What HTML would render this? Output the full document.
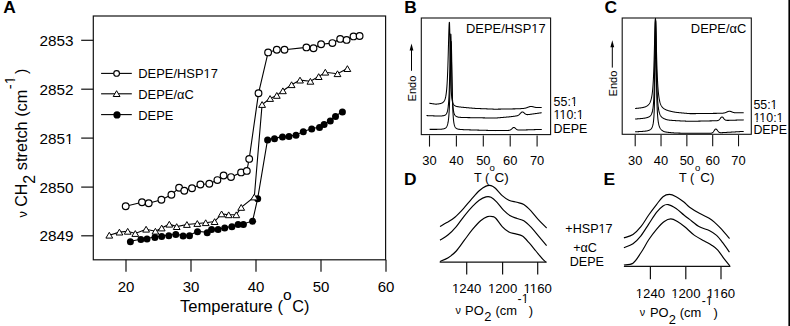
<!DOCTYPE html>
<html><head><meta charset="utf-8"><title>Figure</title>
<style>html,body{margin:0;padding:0;background:#fff;overflow:hidden;}svg{display:block;font-family:"Liberation Sans",sans-serif;}</style>
</head><body>
<svg width="790" height="326" viewBox="0 0 790 326" font-family='&quot;Liberation Sans&quot;, sans-serif' fill="#000">
<rect width="790" height="326" fill="#fff"/>
<rect x="93.3" y="16" width="292.3" height="243.8" fill="none" stroke="#111" stroke-width="1.2"/>
<line x1="81.2" y1="40.3" x2="93.3" y2="40.3" stroke="#111" stroke-width="1.2"/>
<text x="73.6" y="45.7" font-size="15.3" text-anchor="end" font-weight="normal" >2853</text>
<line x1="81.2" y1="89.2" x2="93.3" y2="89.2" stroke="#111" stroke-width="1.2"/>
<text x="73.6" y="94.6" font-size="15.3" text-anchor="end" font-weight="normal" >2852</text>
<line x1="81.2" y1="138.1" x2="93.3" y2="138.1" stroke="#111" stroke-width="1.2"/>
<text id="t1" x="73.6" y="143.5" font-size="15.3" text-anchor="end" font-weight="normal" >2851</text>
<rect x="65.25" y="141.66" width="3.66" height="2.74" fill="#fff"/><rect x="70.3" y="141.66" width="3.66" height="2.74" fill="#fff"/>
<line x1="81.2" y1="187.1" x2="93.3" y2="187.1" stroke="#111" stroke-width="1.2"/>
<text x="73.6" y="192.5" font-size="15.3" text-anchor="end" font-weight="normal" >2850</text>
<line x1="81.2" y1="235.8" x2="93.3" y2="235.8" stroke="#111" stroke-width="1.2"/>
<text x="73.6" y="241.2" font-size="15.3" text-anchor="end" font-weight="normal" >2849</text>
<line x1="126" y1="259.8" x2="126" y2="271.8" stroke="#111" stroke-width="1.2"/>
<text x="126" y="292.4" font-size="15" text-anchor="middle" font-weight="normal" >20</text>
<line x1="191" y1="259.8" x2="191" y2="271.8" stroke="#111" stroke-width="1.2"/>
<text x="191" y="292.4" font-size="15" text-anchor="middle" font-weight="normal" >30</text>
<line x1="256" y1="259.8" x2="256" y2="271.8" stroke="#111" stroke-width="1.2"/>
<text x="256" y="292.4" font-size="15" text-anchor="middle" font-weight="normal" >40</text>
<line x1="321" y1="259.8" x2="321" y2="271.8" stroke="#111" stroke-width="1.2"/>
<text x="321" y="292.4" font-size="15" text-anchor="middle" font-weight="normal" >50</text>
<line x1="386" y1="259.8" x2="386" y2="271.8" stroke="#111" stroke-width="1.2"/>
<text x="386" y="292.4" font-size="15" text-anchor="middle" font-weight="normal" >60</text>
<text x="180" y="311.6" font-size="16.55" text-anchor="start" font-weight="normal" >Temperature (</text>
<text x="283" y="299.5" font-size="15.5" text-anchor="start" font-weight="normal" >o</text>
<text x="292.2" y="311.6" font-size="16.3" text-anchor="start" font-weight="normal" >C)</text>
<g transform="translate(27.1,217.6) rotate(-90)">
<text id="ytitle" x="0" y="0" font-size="16"><tspan font-size="12.8">&#957;</tspan> CH<tspan dy="7.4">2</tspan><tspan dy="-7.4" font-size="16.3"> stretch (cm</tspan><tspan font-size="14.6" dy="-12" dx="0.5">-1</tspan><tspan dy="12" dx="2.2">)</tspan></text>
<rect x="133.39" y="-13.79" width="3.54" height="2.69" fill="#fff"/><rect x="138.26" y="-13.79" width="3.55" height="2.69" fill="#fff"/>
</g>
<path d="M125.7,206.2 L142,202.2 L148.7,203.3 L161.4,199.7 L171.4,194.7 L179.1,187.8 L184.3,190.7 L192,188.2 L200.4,184.5 L209.3,183.8 L217.4,180.1 L223.6,175.5 L231,177.1 L241.1,172.4 L246.8,170.9 L249.2,158.9 L258.5,93.3 L268.1,52.4 L276.8,49.8 L284.5,49.8 L306.4,47.4 L313.5,48.3 L321.1,44.3 L332.4,43.1 L340.2,38.9 L346.6,39.9 L353.5,36.4 L359.6,36" fill="none" stroke="#000" stroke-width="1.1"/>
<path d="M109.3,235.2 L119.4,232.1 L127.7,231.3 L135.3,233.5 L146.1,229.2 L155.4,231.2 L161.7,228 L169.3,224.2 L176.7,226.6 L186.9,224.5 L197.3,223.5 L205.7,222.7 L214.6,221.6 L221.6,213.9 L228.7,214.8 L236.3,214.8 L241.2,207.4 L254.3,197 L262.1,104.5 L270.1,98.5 L276.8,95.4 L282.9,90.8 L291.6,84.7 L300,80.1 L310.4,81.3 L318.7,76.6 L325.3,72.2 L337.5,73.7 L347.4,68.6" fill="none" stroke="#000" stroke-width="1.1"/>
<path d="M130.4,241.3 L140.9,239.2 L147,238.5 L154.9,237 L161.7,236.1 L168.8,235.3 L175.8,234.2 L183.1,235.6 L189.5,235.3 L197.5,231.4 L207.2,232.3 L211.6,229.2 L218.1,229.2 L224.7,227.7 L231.9,226.4 L238.1,224 L243.4,224 L252.6,220.9 L257.7,198.4 L267.6,139.5 L274.5,138.4 L282.5,136.6 L289,136.2 L296,134.9 L303.3,131.4 L311.7,128.7 L319.5,127.1 L324.1,124.2 L330.3,120.7 L335.5,116.1 L342.4,111.5" fill="none" stroke="#000" stroke-width="1.1"/>
<circle cx="130.4" cy="241.7" r="3.5" fill="#000"/>
<circle cx="140.9" cy="239.6" r="3.5" fill="#000"/>
<circle cx="147" cy="238.9" r="3.5" fill="#000"/>
<circle cx="154.9" cy="237.4" r="3.5" fill="#000"/>
<circle cx="161.7" cy="236.5" r="3.5" fill="#000"/>
<circle cx="168.8" cy="235.7" r="3.5" fill="#000"/>
<circle cx="175.8" cy="234.6" r="3.5" fill="#000"/>
<circle cx="183.1" cy="236" r="3.5" fill="#000"/>
<circle cx="189.5" cy="235.7" r="3.5" fill="#000"/>
<circle cx="197.5" cy="231.8" r="3.5" fill="#000"/>
<circle cx="207.2" cy="232.7" r="3.5" fill="#000"/>
<circle cx="211.6" cy="229.6" r="3.5" fill="#000"/>
<circle cx="218.1" cy="229.6" r="3.5" fill="#000"/>
<circle cx="224.7" cy="228.1" r="3.5" fill="#000"/>
<circle cx="231.9" cy="226.8" r="3.5" fill="#000"/>
<circle cx="238.1" cy="224.4" r="3.5" fill="#000"/>
<circle cx="243.4" cy="224.4" r="3.5" fill="#000"/>
<circle cx="252.6" cy="221.3" r="3.5" fill="#000"/>
<circle cx="257.7" cy="198.8" r="3.5" fill="#000"/>
<circle cx="267.6" cy="139.9" r="3.5" fill="#000"/>
<circle cx="274.5" cy="138.8" r="3.5" fill="#000"/>
<circle cx="282.5" cy="137" r="3.5" fill="#000"/>
<circle cx="289" cy="136.6" r="3.5" fill="#000"/>
<circle cx="296" cy="135.3" r="3.5" fill="#000"/>
<circle cx="303.3" cy="131.8" r="3.5" fill="#000"/>
<circle cx="311.7" cy="129.1" r="3.5" fill="#000"/>
<circle cx="319.5" cy="127.5" r="3.5" fill="#000"/>
<circle cx="324.1" cy="124.6" r="3.5" fill="#000"/>
<circle cx="330.3" cy="121.1" r="3.5" fill="#000"/>
<circle cx="335.5" cy="116.5" r="3.5" fill="#000"/>
<circle cx="342.4" cy="111.9" r="3.5" fill="#000"/>
<path d="M109.3,232.3 L112.7,238.1 L105.9,238.1 Z" fill="#fff" stroke="#000" stroke-width="1.0"/>
<path d="M119.4,229.2 L122.8,235 L116,235 Z" fill="#fff" stroke="#000" stroke-width="1.0"/>
<path d="M127.7,228.4 L131.1,234.2 L124.3,234.2 Z" fill="#fff" stroke="#000" stroke-width="1.0"/>
<path d="M135.3,230.6 L138.7,236.4 L131.9,236.4 Z" fill="#fff" stroke="#000" stroke-width="1.0"/>
<path d="M146.1,226.3 L149.5,232.1 L142.7,232.1 Z" fill="#fff" stroke="#000" stroke-width="1.0"/>
<path d="M155.4,228.3 L158.8,234.1 L152,234.1 Z" fill="#fff" stroke="#000" stroke-width="1.0"/>
<path d="M161.7,225.1 L165.1,230.9 L158.3,230.9 Z" fill="#fff" stroke="#000" stroke-width="1.0"/>
<path d="M169.3,221.3 L172.7,227.1 L165.9,227.1 Z" fill="#fff" stroke="#000" stroke-width="1.0"/>
<path d="M176.7,223.7 L180.1,229.5 L173.3,229.5 Z" fill="#fff" stroke="#000" stroke-width="1.0"/>
<path d="M186.9,221.6 L190.3,227.4 L183.5,227.4 Z" fill="#fff" stroke="#000" stroke-width="1.0"/>
<path d="M197.3,220.6 L200.7,226.4 L193.9,226.4 Z" fill="#fff" stroke="#000" stroke-width="1.0"/>
<path d="M205.7,219.8 L209.1,225.6 L202.3,225.6 Z" fill="#fff" stroke="#000" stroke-width="1.0"/>
<path d="M214.6,218.7 L218,224.5 L211.2,224.5 Z" fill="#fff" stroke="#000" stroke-width="1.0"/>
<path d="M221.6,211 L225,216.8 L218.2,216.8 Z" fill="#fff" stroke="#000" stroke-width="1.0"/>
<path d="M228.7,211.9 L232.1,217.7 L225.3,217.7 Z" fill="#fff" stroke="#000" stroke-width="1.0"/>
<path d="M236.3,211.9 L239.7,217.7 L232.9,217.7 Z" fill="#fff" stroke="#000" stroke-width="1.0"/>
<path d="M241.2,204.5 L244.6,210.3 L237.8,210.3 Z" fill="#fff" stroke="#000" stroke-width="1.0"/>
<path d="M254.3,194.1 L257.7,199.9 L250.9,199.9 Z" fill="#fff" stroke="#000" stroke-width="1.0"/>
<path d="M262.1,101.6 L265.5,107.4 L258.7,107.4 Z" fill="#fff" stroke="#000" stroke-width="1.0"/>
<path d="M270.1,95.6 L273.5,101.4 L266.7,101.4 Z" fill="#fff" stroke="#000" stroke-width="1.0"/>
<path d="M276.8,92.5 L280.2,98.3 L273.4,98.3 Z" fill="#fff" stroke="#000" stroke-width="1.0"/>
<path d="M282.9,87.9 L286.3,93.7 L279.5,93.7 Z" fill="#fff" stroke="#000" stroke-width="1.0"/>
<path d="M291.6,81.8 L295,87.6 L288.2,87.6 Z" fill="#fff" stroke="#000" stroke-width="1.0"/>
<path d="M300,77.2 L303.4,83 L296.6,83 Z" fill="#fff" stroke="#000" stroke-width="1.0"/>
<path d="M310.4,78.4 L313.8,84.2 L307,84.2 Z" fill="#fff" stroke="#000" stroke-width="1.0"/>
<path d="M318.7,73.7 L322.1,79.5 L315.3,79.5 Z" fill="#fff" stroke="#000" stroke-width="1.0"/>
<path d="M325.3,69.3 L328.7,75.1 L321.9,75.1 Z" fill="#fff" stroke="#000" stroke-width="1.0"/>
<path d="M337.5,70.8 L340.9,76.6 L334.1,76.6 Z" fill="#fff" stroke="#000" stroke-width="1.0"/>
<path d="M347.4,65.7 L350.8,71.5 L344,71.5 Z" fill="#fff" stroke="#000" stroke-width="1.0"/>
<circle cx="125.7" cy="206.2" r="3.35" fill="#fff" stroke="#000" stroke-width="1.2"/>
<circle cx="142" cy="202.2" r="3.35" fill="#fff" stroke="#000" stroke-width="1.2"/>
<circle cx="148.7" cy="203.3" r="3.35" fill="#fff" stroke="#000" stroke-width="1.2"/>
<circle cx="161.4" cy="199.7" r="3.35" fill="#fff" stroke="#000" stroke-width="1.2"/>
<circle cx="171.4" cy="194.7" r="3.35" fill="#fff" stroke="#000" stroke-width="1.2"/>
<circle cx="179.1" cy="187.8" r="3.35" fill="#fff" stroke="#000" stroke-width="1.2"/>
<circle cx="184.3" cy="190.7" r="3.35" fill="#fff" stroke="#000" stroke-width="1.2"/>
<circle cx="192" cy="188.2" r="3.35" fill="#fff" stroke="#000" stroke-width="1.2"/>
<circle cx="200.4" cy="184.5" r="3.35" fill="#fff" stroke="#000" stroke-width="1.2"/>
<circle cx="209.3" cy="183.8" r="3.35" fill="#fff" stroke="#000" stroke-width="1.2"/>
<circle cx="217.4" cy="180.1" r="3.35" fill="#fff" stroke="#000" stroke-width="1.2"/>
<circle cx="223.6" cy="175.5" r="3.35" fill="#fff" stroke="#000" stroke-width="1.2"/>
<circle cx="231" cy="177.1" r="3.35" fill="#fff" stroke="#000" stroke-width="1.2"/>
<circle cx="241.1" cy="172.4" r="3.35" fill="#fff" stroke="#000" stroke-width="1.2"/>
<circle cx="246.8" cy="170.9" r="3.35" fill="#fff" stroke="#000" stroke-width="1.2"/>
<circle cx="249.2" cy="158.9" r="3.35" fill="#fff" stroke="#000" stroke-width="1.2"/>
<circle cx="258.5" cy="93.3" r="3.35" fill="#fff" stroke="#000" stroke-width="1.2"/>
<circle cx="268.1" cy="52.4" r="3.35" fill="#fff" stroke="#000" stroke-width="1.2"/>
<circle cx="276.8" cy="49.8" r="3.35" fill="#fff" stroke="#000" stroke-width="1.2"/>
<circle cx="284.5" cy="49.8" r="3.35" fill="#fff" stroke="#000" stroke-width="1.2"/>
<circle cx="306.4" cy="47.4" r="3.35" fill="#fff" stroke="#000" stroke-width="1.2"/>
<circle cx="313.5" cy="48.3" r="3.35" fill="#fff" stroke="#000" stroke-width="1.2"/>
<circle cx="321.1" cy="44.3" r="3.35" fill="#fff" stroke="#000" stroke-width="1.2"/>
<circle cx="332.4" cy="43.1" r="3.35" fill="#fff" stroke="#000" stroke-width="1.2"/>
<circle cx="340.2" cy="38.9" r="3.35" fill="#fff" stroke="#000" stroke-width="1.2"/>
<circle cx="346.6" cy="39.9" r="3.35" fill="#fff" stroke="#000" stroke-width="1.2"/>
<circle cx="353.5" cy="36.4" r="3.35" fill="#fff" stroke="#000" stroke-width="1.2"/>
<circle cx="359.6" cy="36" r="3.35" fill="#fff" stroke="#000" stroke-width="1.2"/>
<line x1="101.1" y1="73.4" x2="131.8" y2="73.4" stroke="#000" stroke-width="1.1"/>
<circle cx="116.6" cy="73.4" r="2.85" fill="#fff" stroke="#000" stroke-width="1.15"/>
<text id="t2" x="138.3" y="78.3" font-size="12.9" text-anchor="start" font-weight="normal" >DEPE/HSP17</text>
<rect x="203.47" y="76.64" width="3.24" height="2.56" fill="#fff"/><rect x="207.89" y="76.64" width="3.26" height="2.56" fill="#fff"/>
<line x1="101.1" y1="93.8" x2="131.8" y2="93.8" stroke="#000" stroke-width="1.1"/>
<path d="M116.6,90.7 L120,96.5 L113.2,96.5 Z" fill="#fff" stroke="#000" stroke-width="1.0"/>
<text x="138.3" y="98.7" font-size="12.9" text-anchor="start" font-weight="normal" >DEPE/&#945;C</text>
<line x1="101.1" y1="114.6" x2="131.8" y2="114.6" stroke="#000" stroke-width="1.1"/>
<circle cx="117" cy="114.9" r="3.6" fill="#000"/>
<text x="138.3" y="119.5" font-size="12.9" text-anchor="start" font-weight="normal" >DEPE</text>
<text x="3.2" y="13.4" font-size="17.4" text-anchor="start" font-weight="bold" >A</text>
<text x="404.2" y="13.2" font-size="17.4" text-anchor="start" font-weight="bold" >B</text>
<text x="604.4" y="13.3" font-size="17.4" text-anchor="start" font-weight="bold" >C</text>
<text x="404" y="185" font-size="17.4" text-anchor="start" font-weight="bold" >D</text>
<text x="603.6" y="185" font-size="17.4" text-anchor="start" font-weight="bold" >E</text>
<rect x="421.3" y="18" width="129.3" height="116.6" fill="none" stroke="#111" stroke-width="1.1"/>
<line x1="429.5" y1="135.4" x2="429.5" y2="146.6" stroke="#111" stroke-width="1.1"/>
<text x="429.5" y="164.6" font-size="12.9" text-anchor="middle" font-weight="normal" >30</text>
<line x1="456.4" y1="135.4" x2="456.4" y2="146.6" stroke="#111" stroke-width="1.1"/>
<text x="456.4" y="164.6" font-size="12.9" text-anchor="middle" font-weight="normal" >40</text>
<line x1="483.3" y1="135.4" x2="483.3" y2="146.6" stroke="#111" stroke-width="1.1"/>
<text x="483.3" y="164.6" font-size="12.9" text-anchor="middle" font-weight="normal" >50</text>
<line x1="510.2" y1="135.4" x2="510.2" y2="146.6" stroke="#111" stroke-width="1.1"/>
<text x="510.2" y="164.6" font-size="12.9" text-anchor="middle" font-weight="normal" >60</text>
<line x1="537.1" y1="135.4" x2="537.1" y2="146.6" stroke="#111" stroke-width="1.1"/>
<text x="537.1" y="164.6" font-size="12.9" text-anchor="middle" font-weight="normal" >70</text>
<path d="M429.3,103.24 L429.5,103.27 L429.7,103.3 L429.9,103.33 L430.1,103.36 L430.3,103.39 L430.5,103.42 L430.7,103.45 L430.9,103.48 L431.1,103.51 L431.3,103.54 L431.5,103.57 L431.7,103.6 L431.9,103.63 L432.1,103.66 L432.3,103.69 L432.5,103.72 L432.7,103.75 L432.9,103.78 L433.1,103.81 L433.3,103.83 L433.5,103.86 L433.7,103.89 L433.9,103.92 L434.1,103.95 L434.3,103.97 L434.5,104 L434.7,104.03 L434.9,104.05 L435.1,104.08 L435.3,104.1 L435.5,104.13 L435.7,104.15 L435.9,104.18 L436.1,104.18 L436.3,104.16 L436.5,104.14 L436.7,104.12 L436.9,104.1 L437.1,104.08 L437.3,104.06 L437.5,104.04 L437.7,104.02 L437.9,103.99 L438.1,103.97 L438.3,103.94 L438.5,103.91 L438.7,103.88 L438.9,103.85 L439.1,103.82 L439.3,103.78 L439.5,103.75 L439.7,103.71 L439.9,103.67 L440.1,103.62 L440.3,103.57 L440.5,103.52 L440.7,103.47 L440.9,103.41 L441.1,103.35 L441.3,103.28 L441.5,103.2 L441.7,103.12 L441.9,103.04 L442.1,102.94 L442.3,102.83 L442.5,102.72 L442.7,102.59 L442.9,102.44 L443.1,102.28 L443.3,102.1 L443.5,101.9 L443.7,101.68 L443.9,101.43 L444.1,101.14 L444.3,100.81 L444.5,100.44 L444.7,100.02 L444.9,99.53 L445.1,98.96 L445.3,98.31 L445.5,97.55 L445.7,96.66 L445.9,95.61 L446.1,94.37 L446.3,92.91 L446.5,91.17 L446.7,89.09 L446.9,86.62 L447.1,83.68 L447.3,80.2 L447.5,76.05 L447.7,71.16 L447.9,65.46 L448.1,58.97 L448.3,51.8 L448.5,44.23 L448.7,36.75 L448.9,30.05 L449.1,24.96 L449.3,22.2 L449.5,22.67 L449.7,28.62 L449.9,38.57 L450.1,49.95 L450.3,60.79 L450.5,70.12 L450.7,77.68 L450.9,83.64 L451.1,88.27 L451.3,91.85 L451.5,94.63 L451.7,96.82 L451.9,98.55 L452.1,99.89 L452.3,100.94 L452.5,101.78 L452.7,102.47 L452.9,103.04 L453.1,103.51 L453.3,103.91 L453.5,104.25 L453.7,104.54 L453.9,104.8 L454.1,105.02 L454.3,105.21 L454.5,105.39 L454.7,105.54 L454.9,105.68 L455.1,105.81 L455.3,105.92 L455.5,106.03 L455.7,106.13 L455.9,106.22 L456.1,106.3 L456.3,106.36 L456.5,106.41 L456.7,106.46 L456.9,106.51 L457.1,106.55 L457.3,106.59 L457.5,106.63 L457.7,106.67 L457.9,106.7 L458.1,106.74 L458.3,106.77 L458.5,106.8 L458.7,106.83 L458.9,106.86 L459.1,106.89 L459.3,106.91 L459.5,106.94 L459.7,106.96 L459.9,106.99 L460.1,107.01 L460.3,107.04 L460.5,107.06 L460.7,107.08 L460.9,107.1 L461.1,107.13 L461.3,107.15 L461.5,107.17 L461.7,107.19 L461.9,107.21 L462.1,107.23 L462.3,107.25 L462.5,107.27 L462.7,107.29 L462.9,107.31 L463.1,107.33 L463.3,107.35 L463.5,107.37 L463.7,107.39 L463.9,107.41 L464.1,107.43 L464.3,107.45 L464.5,107.47 L464.7,107.48 L464.9,107.5 L465.1,107.52 L465.3,107.54 L465.5,107.56 L465.7,107.58 L465.9,107.59 L466.1,107.61 L466.3,107.63 L466.5,107.65 L466.7,107.67 L466.9,107.68 L467.1,107.7 L467.3,107.72 L467.5,107.74 L467.7,107.76 L467.9,107.77 L468.1,107.79 L468.3,107.81 L468.5,107.83 L468.7,107.84 L468.9,107.86 L469.1,107.88 L469.3,107.9 L469.5,107.91 L469.7,107.93 L469.9,107.95 L470.1,107.97 L470.3,107.98 L470.5,108 L470.7,108.02 L470.9,108.04 L471.1,108.05 L471.3,108.07 L471.5,108.09 L471.7,108.11 L471.9,108.12 L472.1,108.14 L472.3,108.16 L472.5,108.18 L472.7,108.19 L472.9,108.21 L473.1,108.23 L473.3,108.24 L473.5,108.26 L473.7,108.28 L473.9,108.3 L474.1,108.31 L474.3,108.33 L474.5,108.35 L474.7,108.36 L474.9,108.38 L475.1,108.39 L475.3,108.4 L475.5,108.41 L475.7,108.42 L475.9,108.43 L476.1,108.44 L476.3,108.44 L476.5,108.45 L476.7,108.46 L476.9,108.47 L477.1,108.48 L477.3,108.48 L477.5,108.49 L477.7,108.5 L477.9,108.51 L478.1,108.52 L478.3,108.53 L478.5,108.53 L478.7,108.54 L478.9,108.55 L479.1,108.56 L479.3,108.57 L479.5,108.57 L479.7,108.58 L479.9,108.59 L480.1,108.6 L480.3,108.61 L480.5,108.61 L480.7,108.62 L480.9,108.63 L481.1,108.64 L481.3,108.65 L481.5,108.66 L481.7,108.66 L481.9,108.67 L482.1,108.68 L482.3,108.69 L482.5,108.7 L482.7,108.7 L482.9,108.71 L483.1,108.72 L483.3,108.73 L483.5,108.74 L483.7,108.74 L483.9,108.75 L484.1,108.76 L484.3,108.77 L484.5,108.78 L484.7,108.78 L484.9,108.79 L485.1,108.8 L485.3,108.81 L485.5,108.82 L485.7,108.82 L485.9,108.83 L486.1,108.84 L486.3,108.85 L486.5,108.86 L486.7,108.86 L486.9,108.87 L487.1,108.88 L487.3,108.89 L487.5,108.9 L487.7,108.91 L487.9,108.91 L488.1,108.92 L488.3,108.93 L488.5,108.94 L488.7,108.95 L488.9,108.95 L489.1,108.96 L489.3,108.97 L489.5,108.98 L489.7,108.99 L489.9,108.99 L490.1,109 L490.3,109.01 L490.5,109.02 L490.7,109.03 L490.9,109.03 L491.1,109.04 L491.3,109.05 L491.5,109.06 L491.7,109.07 L491.9,109.07 L492.1,109.08 L492.3,109.09 L492.5,109.1 L492.7,109.11 L492.9,109.11 L493.1,109.12 L493.3,109.13 L493.5,109.14 L493.7,109.15 L493.9,109.15 L494.1,109.16 L494.3,109.17 L494.5,109.18 L494.7,109.19 L494.9,109.19 L495.1,109.2 L495.3,109.19 L495.5,109.19 L495.7,109.19 L495.9,109.18 L496.1,109.18 L496.3,109.18 L496.5,109.17 L496.7,109.17 L496.9,109.17 L497.1,109.16 L497.3,109.16 L497.5,109.16 L497.7,109.15 L497.9,109.15 L498.1,109.14 L498.3,109.14 L498.5,109.14 L498.7,109.13 L498.9,109.13 L499.1,109.13 L499.3,109.12 L499.5,109.12 L499.7,109.12 L499.9,109.11 L500.1,109.11 L500.3,109.11 L500.5,109.1 L500.7,109.1 L500.9,109.1 L501.1,109.09 L501.3,109.09 L501.5,109.09 L501.7,109.08 L501.9,109.08 L502.1,109.08 L502.3,109.07 L502.5,109.07 L502.7,109.07 L502.9,109.06 L503.1,109.06 L503.3,109.05 L503.5,109.05 L503.7,109.05 L503.9,109.04 L504.1,109.04 L504.3,109.04 L504.5,109.03 L504.7,109.03 L504.9,109.03 L505.1,109.02 L505.3,109.02 L505.5,109.02 L505.7,109.01 L505.9,109.01 L506.1,109.01 L506.3,109 L506.5,109 L506.7,109 L506.9,108.99 L507.1,108.99 L507.3,108.99 L507.5,108.98 L507.7,108.98 L507.9,108.97 L508.1,108.97 L508.3,108.97 L508.5,108.96 L508.7,108.96 L508.9,108.96 L509.1,108.95 L509.3,108.95 L509.5,108.95 L509.7,108.94 L509.9,108.94 L510.1,108.94 L510.3,108.93 L510.5,108.93 L510.7,108.93 L510.9,108.92 L511.1,108.92 L511.3,108.92 L511.5,108.91 L511.7,108.91 L511.9,108.91 L512.1,108.9 L512.3,108.9 L512.5,108.9 L512.7,108.89 L512.9,108.89 L513.1,108.88 L513.3,108.88 L513.5,108.88 L513.7,108.87 L513.9,108.87 L514.1,108.87 L514.3,108.86 L514.5,108.86 L514.7,108.86 L514.9,108.85 L515.1,108.85 L515.3,108.85 L515.5,108.84 L515.7,108.84 L515.9,108.84 L516.1,108.83 L516.3,108.83 L516.5,108.83 L516.7,108.82 L516.9,108.82 L517.1,108.82 L517.3,108.81 L517.5,108.81 L517.7,108.8 L517.9,108.8 L518.1,108.79 L518.3,108.78 L518.5,108.77 L518.7,108.76 L518.9,108.75 L519.1,108.73 L519.3,108.72 L519.5,108.71 L519.7,108.7 L519.9,108.69 L520.1,108.67 L520.3,108.66 L520.5,108.65 L520.7,108.64 L520.9,108.63 L521.1,108.61 L521.3,108.6 L521.5,108.59 L521.7,108.57 L521.9,108.56 L522.1,108.55 L522.3,108.53 L522.5,108.52 L522.7,108.5 L522.9,108.48 L523.1,108.46 L523.3,108.44 L523.5,108.42 L523.7,108.4 L523.9,108.38 L524.1,108.35 L524.3,108.32 L524.5,108.29 L524.7,108.26 L524.9,108.22 L525.1,108.18 L525.3,108.14 L525.5,108.09 L525.7,108.04 L525.9,107.99 L526.1,107.93 L526.3,107.87 L526.5,107.81 L526.7,107.74 L526.9,107.67 L527.1,107.6 L527.3,107.52 L527.5,107.44 L527.7,107.36 L527.9,107.28 L528.1,107.2 L528.3,107.12 L528.5,107.04 L528.7,106.96 L528.9,106.89 L529.1,106.82 L529.3,106.75 L529.5,106.69 L529.7,106.63 L529.9,106.58 L530.1,106.54 L530.3,106.5 L530.5,106.47 L530.7,106.45 L530.9,106.44 L531.1,106.44 L531.3,106.44 L531.5,106.45 L531.7,106.47 L531.9,106.5 L532.1,106.53 L532.3,106.57 L532.5,106.62 L532.7,106.66 L532.9,106.72 L533.1,106.77 L533.3,106.83 L533.5,106.88 L533.7,106.94 L533.9,107 L534.1,107.05 L534.3,107.11 L534.5,107.16 L534.7,107.21 L534.9,107.26 L535.1,107.3 L535.3,107.34 L535.5,107.38 L535.7,107.41 L535.9,107.44 L536.1,107.47 L536.3,107.49 L536.5,107.51 L536.7,107.53 L536.9,107.54 L537.1,107.55 L537.3,107.56 L537.5,107.56 L537.7,107.56 L537.9,107.56 L538.1,107.56 L538.3,107.56 L538.5,107.56 L538.7,107.55 L538.9,107.55 L539.1,107.54 L539.3,107.53 L539.5,107.52 L539.7,107.51 L539.9,107.5 L540.1,107.49 L540.3,107.48 L540.5,107.47 L540.7,107.46 L540.9,107.45 L541.1,107.44 L541.3,107.43 L541.5,107.42 L541.7,107.4" fill="none" stroke="#000" stroke-width="1.05" stroke-linejoin="round"/>
<path d="M426.5,115.58 L426.7,115.59 L426.9,115.6 L427.1,115.61 L427.3,115.62 L427.5,115.62 L427.7,115.63 L427.9,115.64 L428.1,115.65 L428.3,115.66 L428.5,115.67 L428.7,115.67 L428.9,115.68 L429.1,115.69 L429.3,115.7 L429.5,115.71 L429.7,115.72 L429.9,115.72 L430.1,115.73 L430.3,115.74 L430.5,115.75 L430.7,115.76 L430.9,115.76 L431.1,115.77 L431.3,115.78 L431.5,115.79 L431.7,115.8 L431.9,115.8 L432.1,115.81 L432.3,115.82 L432.5,115.83 L432.7,115.83 L432.9,115.84 L433.1,115.85 L433.3,115.86 L433.5,115.86 L433.7,115.87 L433.9,115.88 L434.1,115.88 L434.3,115.89 L434.5,115.9 L434.7,115.9 L434.9,115.91 L435.1,115.92 L435.3,115.92 L435.5,115.93 L435.7,115.94 L435.9,115.94 L436.1,115.95 L436.3,115.95 L436.5,115.96 L436.7,115.96 L436.9,115.97 L437.1,115.97 L437.3,115.98 L437.5,115.98 L437.7,115.99 L437.9,115.99 L438.1,115.99 L438.3,116 L438.5,116 L438.7,116 L438.9,116 L439.1,116.01 L439.3,116.01 L439.5,116.01 L439.7,116.01 L439.9,116.01 L440.1,116 L440.3,116 L440.5,115.99 L440.7,115.98 L440.9,115.97 L441.1,115.96 L441.3,115.95 L441.5,115.93 L441.7,115.92 L441.9,115.9 L442.1,115.88 L442.3,115.86 L442.5,115.84 L442.7,115.81 L442.9,115.78 L443.1,115.75 L443.3,115.71 L443.5,115.67 L443.7,115.63 L443.9,115.58 L444.1,115.52 L444.3,115.45 L444.5,115.38 L444.7,115.29 L444.9,115.19 L445.1,115.08 L445.3,114.96 L445.5,114.81 L445.7,114.64 L445.9,114.45 L446.1,114.23 L446.3,113.96 L446.5,113.65 L446.7,113.29 L446.9,112.86 L447.1,112.35 L447.3,111.73 L447.5,110.98 L447.7,110.08 L447.9,108.97 L448.1,107.61 L448.3,105.93 L448.5,103.83 L448.7,101.2 L448.9,97.9 L449.1,93.75 L449.3,88.58 L449.5,82.19 L449.7,74.49 L449.9,65.56 L450.1,55.85 L450.3,46.35 L450.5,38.54 L450.7,34.08 L450.9,34.29 L451.1,40.2 L451.3,50.12 L451.5,61.45 L451.7,72.26 L451.9,81.53 L452.1,89.05 L452.3,94.94 L452.5,99.5 L452.7,103 L452.9,105.71 L453.1,107.81 L453.3,109.46 L453.5,110.76 L453.7,111.8 L453.9,112.64 L454.1,113.32 L454.3,113.88 L454.5,114.34 L454.7,114.73 L454.9,115.05 L455.1,115.33 L455.3,115.57 L455.5,115.78 L455.7,115.96 L455.9,116.12 L456.1,116.26 L456.3,116.38 L456.5,116.5 L456.7,116.6 L456.9,116.69 L457.1,116.78 L457.3,116.85 L457.5,116.93 L457.7,116.99 L457.9,117.05 L458.1,117.1 L458.3,117.14 L458.5,117.17 L458.7,117.19 L458.9,117.22 L459.1,117.24 L459.3,117.26 L459.5,117.28 L459.7,117.3 L459.9,117.32 L460.1,117.33 L460.3,117.35 L460.5,117.36 L460.7,117.37 L460.9,117.39 L461.1,117.4 L461.3,117.41 L461.5,117.42 L461.7,117.43 L461.9,117.44 L462.1,117.45 L462.3,117.45 L462.5,117.46 L462.7,117.47 L462.9,117.48 L463.1,117.48 L463.3,117.49 L463.5,117.5 L463.7,117.5 L463.9,117.51 L464.1,117.52 L464.3,117.52 L464.5,117.53 L464.7,117.53 L464.9,117.54 L465.1,117.54 L465.3,117.55 L465.5,117.55 L465.7,117.56 L465.9,117.56 L466.1,117.57 L466.3,117.57 L466.5,117.57 L466.7,117.58 L466.9,117.58 L467.1,117.59 L467.3,117.59 L467.5,117.6 L467.7,117.6 L467.9,117.6 L468.1,117.61 L468.3,117.61 L468.5,117.61 L468.7,117.62 L468.9,117.62 L469.1,117.63 L469.3,117.63 L469.5,117.63 L469.7,117.64 L469.9,117.64 L470.1,117.64 L470.3,117.65 L470.5,117.65 L470.7,117.65 L470.9,117.66 L471.1,117.66 L471.3,117.66 L471.5,117.67 L471.7,117.67 L471.9,117.67 L472.1,117.68 L472.3,117.68 L472.5,117.68 L472.7,117.69 L472.9,117.69 L473.1,117.69 L473.3,117.69 L473.5,117.7 L473.7,117.7 L473.9,117.7 L474.1,117.71 L474.3,117.71 L474.5,117.71 L474.7,117.72 L474.9,117.72 L475.1,117.72 L475.3,117.72 L475.5,117.73 L475.7,117.73 L475.9,117.73 L476.1,117.74 L476.3,117.74 L476.5,117.74 L476.7,117.75 L476.9,117.75 L477.1,117.75 L477.3,117.75 L477.5,117.76 L477.7,117.76 L477.9,117.76 L478.1,117.77 L478.3,117.77 L478.5,117.77 L478.7,117.77 L478.9,117.78 L479.1,117.78 L479.3,117.78 L479.5,117.79 L479.7,117.79 L479.9,117.79 L480.1,117.8 L480.3,117.8 L480.5,117.8 L480.7,117.81 L480.9,117.81 L481.1,117.82 L481.3,117.82 L481.5,117.82 L481.7,117.83 L481.9,117.83 L482.1,117.84 L482.3,117.84 L482.5,117.84 L482.7,117.85 L482.9,117.85 L483.1,117.86 L483.3,117.86 L483.5,117.87 L483.7,117.87 L483.9,117.87 L484.1,117.88 L484.3,117.88 L484.5,117.89 L484.7,117.89 L484.9,117.89 L485.1,117.9 L485.3,117.9 L485.5,117.91 L485.7,117.91 L485.9,117.91 L486.1,117.92 L486.3,117.92 L486.5,117.93 L486.7,117.93 L486.9,117.93 L487.1,117.94 L487.3,117.94 L487.5,117.95 L487.7,117.95 L487.9,117.95 L488.1,117.96 L488.3,117.96 L488.5,117.97 L488.7,117.97 L488.9,117.98 L489.1,117.98 L489.3,117.98 L489.5,117.99 L489.7,117.99 L489.9,118 L490.1,118 L490.3,118 L490.5,118.01 L490.7,118.01 L490.9,118.02 L491.1,118.02 L491.3,118.02 L491.5,118.03 L491.7,118.03 L491.9,118.04 L492.1,118.04 L492.3,118.04 L492.5,118.05 L492.7,118.05 L492.9,118.06 L493.1,118.06 L493.3,118.06 L493.5,118.07 L493.7,118.07 L493.9,118.08 L494.1,118.08 L494.3,118.08 L494.5,118.09 L494.7,118.09 L494.9,118.1 L495.1,118.09 L495.3,118.07 L495.5,118.05 L495.7,118.04 L495.9,118.02 L496.1,118 L496.3,117.99 L496.5,117.97 L496.7,117.95 L496.9,117.93 L497.1,117.92 L497.3,117.9 L497.5,117.88 L497.7,117.86 L497.9,117.85 L498.1,117.83 L498.3,117.81 L498.5,117.8 L498.7,117.78 L498.9,117.76 L499.1,117.74 L499.3,117.73 L499.5,117.71 L499.7,117.69 L499.9,117.67 L500.1,117.66 L500.3,117.64 L500.5,117.62 L500.7,117.6 L500.9,117.59 L501.1,117.57 L501.3,117.55 L501.5,117.54 L501.7,117.52 L501.9,117.5 L502.1,117.48 L502.3,117.47 L502.5,117.45 L502.7,117.43 L502.9,117.41 L503.1,117.4 L503.3,117.38 L503.5,117.36 L503.7,117.34 L503.9,117.33 L504.1,117.31 L504.3,117.29 L504.5,117.28 L504.7,117.26 L504.9,117.24 L505.1,117.22 L505.3,117.21 L505.5,117.19 L505.7,117.17 L505.9,117.15 L506.1,117.14 L506.3,117.12 L506.5,117.1 L506.7,117.09 L506.9,117.07 L507.1,117.05 L507.3,117.03 L507.5,117.02 L507.7,117 L507.9,116.98 L508.1,116.96 L508.3,116.95 L508.5,116.93 L508.7,116.91 L508.9,116.89 L509.1,116.88 L509.3,116.86 L509.5,116.84 L509.7,116.83 L509.9,116.81 L510.1,116.79 L510.3,116.76 L510.5,116.73 L510.7,116.71 L510.9,116.68 L511.1,116.66 L511.3,116.63 L511.5,116.6 L511.7,116.58 L511.9,116.55 L512.1,116.53 L512.3,116.5 L512.5,116.47 L512.7,116.45 L512.9,116.42 L513.1,116.4 L513.3,116.37 L513.5,116.34 L513.7,116.32 L513.9,116.29 L514.1,116.27 L514.3,116.24 L514.5,116.21 L514.7,116.19 L514.9,116.16 L515.1,116.13 L515.3,116.1 L515.5,116.07 L515.7,116.04 L515.9,116.01 L516.1,115.98 L516.3,115.94 L516.5,115.91 L516.7,115.86 L516.9,115.82 L517.1,115.76 L517.3,115.71 L517.5,115.64 L517.7,115.56 L517.9,115.48 L518.1,115.38 L518.3,115.27 L518.5,115.15 L518.7,115.02 L518.9,114.86 L519.1,114.7 L519.3,114.52 L519.5,114.33 L519.7,114.12 L519.9,113.91 L520.1,113.69 L520.3,113.47 L520.5,113.25 L520.7,113.03 L520.9,112.83 L521.1,112.63 L521.3,112.46 L521.5,112.3 L521.7,112.17 L521.9,112.07 L522.1,112.01 L522.3,111.97 L522.5,111.97 L522.7,111.99 L522.9,112.05 L523.1,112.14 L523.3,112.26 L523.5,112.39 L523.7,112.55 L523.9,112.71 L524.1,112.89 L524.3,113.07 L524.5,113.25 L524.7,113.42 L524.9,113.59 L525.1,113.75 L525.3,113.9 L525.5,114.03 L525.7,114.15 L525.9,114.26 L526.1,114.35 L526.3,114.42 L526.5,114.49 L526.7,114.54 L526.9,114.58 L527.1,114.6 L527.3,114.61 L527.5,114.62 L527.7,114.61 L527.9,114.61 L528.1,114.59 L528.3,114.58 L528.5,114.56 L528.7,114.54 L528.9,114.52 L529.1,114.49 L529.3,114.47 L529.5,114.44 L529.7,114.41 L529.9,114.39 L530.1,114.36 L530.3,114.33 L530.5,114.3 L530.7,114.27 L530.9,114.25 L531.1,114.22 L531.3,114.19 L531.5,114.16 L531.7,114.13 L531.9,114.1 L532.1,114.08 L532.3,114.05 L532.5,114.02 L532.7,113.99 L532.9,113.96 L533.1,113.93 L533.3,113.91 L533.5,113.88 L533.7,113.85 L533.9,113.82 L534.1,113.79 L534.3,113.76 L534.5,113.74 L534.7,113.71 L534.9,113.68 L535.1,113.65 L535.3,113.62 L535.5,113.59 L535.7,113.57 L535.9,113.54 L536.1,113.51 L536.3,113.48 L536.5,113.45 L536.7,113.42 L536.9,113.4 L537.1,113.37 L537.3,113.34 L537.5,113.31 L537.7,113.28 L537.9,113.25 L538.1,113.22 L538.3,113.2 L538.5,113.17 L538.7,113.14 L538.9,113.11 L539.1,113.08 L539.3,113.05 L539.5,113.03 L539.7,113 L539.9,112.97 L540.1,112.94 L540.3,112.91 L540.5,112.88 L540.7,112.86 L540.9,112.83 L541.1,112.8 L541.3,112.77 L541.5,112.74 L541.7,112.71" fill="none" stroke="#000" stroke-width="1.05" stroke-linejoin="round"/>
<path d="M429.6,129.37 L429.8,129.37 L430,129.37 L430.2,129.37 L430.4,129.37 L430.6,129.37 L430.8,129.37 L431,129.37 L431.2,129.37 L431.4,129.37 L431.6,129.37 L431.8,129.37 L432,129.38 L432.2,129.38 L432.4,129.38 L432.6,129.38 L432.8,129.38 L433,129.37 L433.2,129.37 L433.4,129.37 L433.6,129.37 L433.8,129.37 L434,129.37 L434.2,129.37 L434.4,129.37 L434.6,129.37 L434.8,129.37 L435,129.37 L435.2,129.37 L435.4,129.37 L435.6,129.36 L435.8,129.36 L436,129.36 L436.2,129.36 L436.4,129.36 L436.6,129.35 L436.8,129.35 L437,129.35 L437.2,129.35 L437.4,129.34 L437.6,129.34 L437.8,129.34 L438,129.33 L438.2,129.33 L438.4,129.32 L438.6,129.32 L438.8,129.31 L439,129.31 L439.2,129.3 L439.4,129.29 L439.6,129.28 L439.8,129.28 L440,129.27 L440.2,129.26 L440.4,129.25 L440.6,129.23 L440.8,129.22 L441,129.21 L441.2,129.19 L441.4,129.18 L441.6,129.16 L441.8,129.14 L442,129.12 L442.2,129.1 L442.4,129.07 L442.6,129.04 L442.8,129.01 L443,128.98 L443.2,128.94 L443.4,128.9 L443.6,128.86 L443.8,128.81 L444,128.75 L444.2,128.69 L444.4,128.62 L444.6,128.53 L444.8,128.44 L445,128.34 L445.2,128.23 L445.4,128.1 L445.6,127.96 L445.8,127.79 L446,127.6 L446.2,127.38 L446.4,127.13 L446.6,126.85 L446.8,126.51 L447,126.11 L447.2,125.65 L447.4,125.1 L447.6,124.45 L447.8,123.67 L448,122.72 L448.2,121.58 L448.4,120.18 L448.6,118.46 L448.8,116.34 L449,113.71 L449.2,110.43 L449.4,106.34 L449.6,101.28 L449.8,95.05 L450,87.52 L450.2,78.73 L450.4,68.97 L450.6,58.98 L450.8,50.03 L451,43.71 L451.2,41.41 L451.4,44.68 L451.6,53.38 L451.8,64.92 L452,76.82 L452.2,87.51 L452.4,96.38 L452.6,103.42 L452.8,108.89 L453,113.1 L453.2,116.34 L453.4,118.84 L453.6,120.78 L453.8,122.3 L454,123.51 L454.2,124.47 L454.4,125.24 L454.6,125.87 L454.8,126.39 L455,126.82 L455.2,127.17 L455.4,127.47 L455.6,127.72 L455.8,127.94 L456,128.12 L456.2,128.28 L456.4,128.42 L456.6,128.54 L456.8,128.65 L457,128.74 L457.2,128.83 L457.4,128.9 L457.6,128.97 L457.8,129.03 L458,129.08 L458.2,129.13 L458.4,129.17 L458.6,129.21 L458.8,129.24 L459,129.28 L459.2,129.31 L459.4,129.33 L459.6,129.36 L459.8,129.38 L460,129.41 L460.2,129.43 L460.4,129.45 L460.6,129.46 L460.8,129.48 L461,129.5 L461.2,129.51 L461.4,129.53 L461.6,129.54 L461.8,129.55 L462,129.57 L462.2,129.58 L462.4,129.59 L462.6,129.6 L462.8,129.61 L463,129.62 L463.2,129.63 L463.4,129.64 L463.6,129.65 L463.8,129.66 L464,129.67 L464.2,129.68 L464.4,129.69 L464.6,129.69 L464.8,129.7 L465,129.71 L465.2,129.72 L465.4,129.73 L465.6,129.73 L465.8,129.74 L466,129.75 L466.2,129.75 L466.4,129.76 L466.6,129.77 L466.8,129.78 L467,129.78 L467.2,129.79 L467.4,129.79 L467.6,129.8 L467.8,129.81 L468,129.81 L468.2,129.82 L468.4,129.83 L468.6,129.83 L468.8,129.84 L469,129.84 L469.2,129.85 L469.4,129.86 L469.6,129.86 L469.8,129.87 L470,129.87 L470.2,129.88 L470.4,129.89 L470.6,129.89 L470.8,129.9 L471,129.91 L471.2,129.91 L471.4,129.92 L471.6,129.92 L471.8,129.93 L472,129.94 L472.2,129.94 L472.4,129.95 L472.6,129.96 L472.8,129.96 L473,129.97 L473.2,129.97 L473.4,129.98 L473.6,129.99 L473.8,129.99 L474,130 L474.2,130 L474.4,130.01 L474.6,130.02 L474.8,130.02 L475,130.03 L475.2,130.03 L475.4,130.04 L475.6,130.05 L475.8,130.05 L476,130.06 L476.2,130.06 L476.4,130.07 L476.6,130.07 L476.8,130.08 L477,130.09 L477.2,130.09 L477.4,130.1 L477.6,130.1 L477.8,130.11 L478,130.12 L478.2,130.12 L478.4,130.13 L478.6,130.13 L478.8,130.14 L479,130.14 L479.2,130.15 L479.4,130.16 L479.6,130.16 L479.8,130.17 L480,130.17 L480.2,130.18 L480.4,130.18 L480.6,130.19 L480.8,130.2 L481,130.2 L481.2,130.21 L481.4,130.21 L481.6,130.22 L481.8,130.22 L482,130.23 L482.2,130.24 L482.4,130.24 L482.6,130.25 L482.8,130.25 L483,130.26 L483.2,130.26 L483.4,130.27 L483.6,130.28 L483.8,130.28 L484,130.29 L484.2,130.29 L484.4,130.3 L484.6,130.3 L484.8,130.31 L485,130.32 L485.2,130.32 L485.4,130.33 L485.6,130.33 L485.8,130.34 L486,130.34 L486.2,130.35 L486.4,130.36 L486.6,130.36 L486.8,130.37 L487,130.37 L487.2,130.38 L487.4,130.38 L487.6,130.39 L487.8,130.39 L488,130.4 L488.2,130.41 L488.4,130.41 L488.6,130.42 L488.8,130.42 L489,130.43 L489.2,130.43 L489.4,130.44 L489.6,130.45 L489.8,130.45 L490,130.46 L490.2,130.46 L490.4,130.47 L490.6,130.47 L490.8,130.48 L491,130.49 L491.2,130.49 L491.4,130.5 L491.6,130.5 L491.8,130.51 L492,130.51 L492.2,130.52 L492.4,130.52 L492.6,130.53 L492.8,130.54 L493,130.54 L493.2,130.55 L493.4,130.55 L493.6,130.56 L493.8,130.56 L494,130.57 L494.2,130.58 L494.4,130.58 L494.6,130.59 L494.8,130.59 L495,130.6 L495.2,130.6 L495.4,130.59 L495.6,130.59 L495.8,130.59 L496,130.58 L496.2,130.58 L496.4,130.58 L496.6,130.58 L496.8,130.57 L497,130.57 L497.2,130.57 L497.4,130.57 L497.6,130.56 L497.8,130.56 L498,130.56 L498.2,130.56 L498.4,130.55 L498.6,130.55 L498.8,130.55 L499,130.55 L499.2,130.54 L499.4,130.54 L499.6,130.54 L499.8,130.53 L500,130.53 L500.2,130.53 L500.4,130.53 L500.6,130.52 L500.8,130.52 L501,130.52 L501.2,130.52 L501.4,130.51 L501.6,130.51 L501.8,130.51 L502,130.51 L502.2,130.5 L502.4,130.5 L502.6,130.5 L502.8,130.49 L503,130.49 L503.2,130.49 L503.4,130.49 L503.6,130.48 L503.8,130.48 L504,130.48 L504.2,130.48 L504.4,130.47 L504.6,130.47 L504.8,130.47 L505,130.47 L505.2,130.46 L505.4,130.46 L505.6,130.46 L505.8,130.45 L506,130.45 L506.2,130.45 L506.4,130.45 L506.6,130.44 L506.8,130.44 L507,130.44 L507.2,130.43 L507.4,130.43 L507.6,130.42 L507.8,130.42 L508,130.41 L508.2,130.4 L508.4,130.39 L508.6,130.37 L508.8,130.36 L509,130.33 L509.2,130.3 L509.4,130.27 L509.6,130.22 L509.8,130.16 L510,130.1 L510.2,130.01 L510.4,129.92 L510.6,129.8 L510.8,129.68 L511,129.53 L511.2,129.37 L511.4,129.2 L511.6,129.02 L511.8,128.83 L512,128.64 L512.2,128.44 L512.4,128.25 L512.6,128.08 L512.8,127.91 L513,127.77 L513.2,127.65 L513.4,127.56 L513.6,127.5 L513.8,127.48 L514,127.49 L514.2,127.54 L514.4,127.61 L514.6,127.72 L514.8,127.85 L515,128 L515.2,128.17 L515.4,128.34 L515.6,128.52 L515.8,128.71 L516,128.88 L516.2,129.05 L516.4,129.21 L516.6,129.36 L516.8,129.49 L517,129.6 L517.2,129.7 L517.4,129.79 L517.6,129.86 L517.8,129.92 L518,129.96 L518.2,130 L518.4,130.03 L518.6,130.05 L518.8,130.06 L519,130.07 L519.2,130.08 L519.4,130.08 L519.6,130.08 L519.8,130.08 L520,130.08 L520.2,130.07 L520.4,130.07 L520.6,130.06 L520.8,130.06 L521,130.05 L521.2,130.05 L521.4,130.04 L521.6,130.03 L521.8,130.03 L522,130.02 L522.2,130.02 L522.4,130.01 L522.6,130 L522.8,130 L523,129.99 L523.2,129.98 L523.4,129.98 L523.6,129.97 L523.8,129.97 L524,129.96 L524.2,129.95 L524.4,129.95 L524.6,129.94 L524.8,129.93 L525,129.93 L525.2,129.92 L525.4,129.92 L525.6,129.91 L525.8,129.9 L526,129.9 L526.2,129.89 L526.4,129.88 L526.6,129.88 L526.8,129.87 L527,129.87 L527.2,129.86 L527.4,129.85 L527.6,129.85 L527.8,129.84 L528,129.83 L528.2,129.83 L528.4,129.82 L528.6,129.81 L528.8,129.81 L529,129.8 L529.2,129.8 L529.4,129.79 L529.6,129.78 L529.8,129.78 L530,129.77 L530.2,129.76 L530.4,129.76 L530.6,129.75 L530.8,129.75 L531,129.74 L531.2,129.73 L531.4,129.73 L531.6,129.72 L531.8,129.71 L532,129.71 L532.2,129.7 L532.4,129.7 L532.6,129.69 L532.8,129.68 L533,129.68 L533.2,129.67 L533.4,129.66 L533.6,129.66 L533.8,129.65 L534,129.64 L534.2,129.64 L534.4,129.63 L534.6,129.63 L534.8,129.62 L535,129.61 L535.2,129.61 L535.4,129.6 L535.6,129.59 L535.8,129.59 L536,129.58 L536.2,129.58 L536.4,129.57 L536.6,129.56 L536.8,129.56 L537,129.55 L537.2,129.54 L537.4,129.54 L537.6,129.53 L537.8,129.53 L538,129.52 L538.2,129.51 L538.4,129.51 L538.6,129.5 L538.8,129.49 L539,129.49 L539.2,129.48 L539.4,129.48 L539.6,129.47 L539.8,129.46 L540,129.46 L540.2,129.45 L540.4,129.44 L540.6,129.44 L540.8,129.43 L541,129.42 L541.2,129.42 L541.4,129.41 L541.6,129.41 L541.8,129.4" fill="none" stroke="#000" stroke-width="1.05" stroke-linejoin="round"/>
<text id="t3" x="545.6" y="33.2" font-size="12.9" text-anchor="end" font-weight="normal" >DEPE/HSP17</text>
<rect x="531.24" y="31.54" width="3.24" height="2.56" fill="#fff"/><rect x="535.66" y="31.54" width="3.26" height="2.56" fill="#fff"/>
<text id="t4" x="553.6" y="105.6" font-size="12.4" text-anchor="start" font-weight="normal" >55:1</text>
<rect x="570.76" y="103.97" width="3.15" height="2.53" fill="#fff"/><rect x="575.05" y="103.97" width="3.18" height="2.53" fill="#fff"/>
<text id="t5" x="553.6" y="119.3" font-size="12.4" text-anchor="start" font-weight="normal" >110:1</text>
<rect x="553.54" y="117.67" width="3.15" height="2.53" fill="#fff"/><rect x="557.83" y="117.67" width="3.18" height="2.53" fill="#fff"/><rect x="559.51" y="117.67" width="3.15" height="2.53" fill="#fff"/><rect x="563.8" y="117.67" width="3.18" height="2.53" fill="#fff"/><rect x="576.73" y="117.67" width="3.15" height="2.53" fill="#fff"/><rect x="581.02" y="117.67" width="3.18" height="2.53" fill="#fff"/>
<text x="553.6" y="133.4" font-size="12.4" text-anchor="start" font-weight="normal" >DEPE</text>
<text transform="translate(415.6,101.4) rotate(-90)" x="0" y="0" font-size="11">Endo</text>
<line x1="411.5" y1="47.4" x2="411.5" y2="70.8" stroke="#000" stroke-width="1"/>
<path d="M411.5,43.4 L409.6,50.4 L413.4,50.4 Z" fill="#000"/>
<text x="474" y="181.9" font-size="12.6" text-anchor="start" font-weight="normal" >T (</text>
<text x="489.4" y="170.9" font-size="9.6" text-anchor="start" font-weight="normal" >o</text>
<text x="494.4" y="181.9" font-size="13.5" text-anchor="start" font-weight="normal" >C)</text>
<rect x="622.2" y="18" width="129.1" height="116.3" fill="none" stroke="#111" stroke-width="1.1"/>
<line x1="635.2" y1="135.1" x2="635.2" y2="146.3" stroke="#111" stroke-width="1.1"/>
<text x="635.2" y="164.6" font-size="12.9" text-anchor="middle" font-weight="normal" >30</text>
<line x1="661.03" y1="135.1" x2="661.03" y2="146.3" stroke="#111" stroke-width="1.1"/>
<text x="661.03" y="164.6" font-size="12.9" text-anchor="middle" font-weight="normal" >40</text>
<line x1="686.86" y1="135.1" x2="686.86" y2="146.3" stroke="#111" stroke-width="1.1"/>
<text x="686.86" y="164.6" font-size="12.9" text-anchor="middle" font-weight="normal" >50</text>
<line x1="712.69" y1="135.1" x2="712.69" y2="146.3" stroke="#111" stroke-width="1.1"/>
<text x="712.69" y="164.6" font-size="12.9" text-anchor="middle" font-weight="normal" >60</text>
<line x1="738.52" y1="135.1" x2="738.52" y2="146.3" stroke="#111" stroke-width="1.1"/>
<text x="738.52" y="164.6" font-size="12.9" text-anchor="middle" font-weight="normal" >70</text>
<path d="M635.1,108.48 L635.3,108.46 L635.5,108.44 L635.7,108.43 L635.9,108.41 L636.1,108.39 L636.3,108.38 L636.5,108.36 L636.7,108.34 L636.9,108.32 L637.1,108.31 L637.3,108.29 L637.5,108.27 L637.7,108.25 L637.9,108.23 L638.1,108.21 L638.3,108.19 L638.5,108.17 L638.7,108.14 L638.9,108.12 L639.1,108.1 L639.3,108.07 L639.5,108.05 L639.7,108.03 L639.9,108 L640.1,107.97 L640.3,107.95 L640.5,107.92 L640.7,107.89 L640.9,107.86 L641.1,107.83 L641.3,107.8 L641.5,107.77 L641.7,107.73 L641.9,107.7 L642.1,107.66 L642.3,107.63 L642.5,107.59 L642.7,107.55 L642.9,107.5 L643.1,107.46 L643.3,107.42 L643.5,107.37 L643.7,107.32 L643.9,107.27 L644.1,107.22 L644.3,107.16 L644.5,107.1 L644.7,107.04 L644.9,106.98 L645.1,106.91 L645.3,106.84 L645.5,106.76 L645.7,106.68 L645.9,106.6 L646.1,106.51 L646.3,106.4 L646.5,106.29 L646.7,106.17 L646.9,106.05 L647.1,105.91 L647.3,105.77 L647.5,105.62 L647.7,105.47 L647.9,105.3 L648.1,105.11 L648.3,104.92 L648.5,104.71 L648.7,104.49 L648.9,104.24 L649.1,103.98 L649.3,103.69 L649.5,103.38 L649.7,103.04 L649.9,102.66 L650.1,102.25 L650.3,101.8 L650.5,101.3 L650.7,100.74 L650.9,100.11 L651.1,99.43 L651.3,98.68 L651.5,97.83 L651.7,96.86 L651.9,95.75 L652.1,94.46 L652.3,92.97 L652.5,91.23 L652.7,89.21 L652.9,86.82 L653.1,84.01 L653.3,80.69 L653.5,76.76 L653.7,72.1 L653.9,66.62 L654.1,60.25 L654.3,52.99 L654.5,45.02 L654.7,36.77 L654.9,29.01 L655.1,22.84 L655.3,19.38 L655.5,19.37 L655.7,22.64 L655.9,28.5 L656.1,35.97 L656.3,44.05 L656.5,51.96 L656.7,59.25 L656.9,65.74 L657.1,71.39 L657.3,76.24 L657.5,80.39 L657.7,83.94 L657.9,86.97 L658.1,89.57 L658.3,91.81 L658.5,93.75 L658.7,95.43 L658.9,96.91 L659.1,98.21 L659.3,99.36 L659.5,100.39 L659.7,101.3 L659.9,102.13 L660.1,102.84 L660.3,103.44 L660.5,103.98 L660.7,104.46 L660.9,104.91 L661.1,105.31 L661.3,105.68 L661.5,106.02 L661.7,106.33 L661.9,106.62 L662.1,106.89 L662.3,107.13 L662.5,107.36 L662.7,107.58 L662.9,107.78 L663.1,107.96 L663.3,108.14 L663.5,108.3 L663.7,108.46 L663.9,108.61 L664.1,108.75 L664.3,108.88 L664.5,109.01 L664.7,109.13 L664.9,109.24 L665.1,109.35 L665.3,109.45 L665.5,109.55 L665.7,109.65 L665.9,109.74 L666.1,109.83 L666.3,109.91 L666.5,110 L666.7,110.08 L666.9,110.15 L667.1,110.23 L667.3,110.3 L667.5,110.37 L667.7,110.44 L667.9,110.5 L668.1,110.57 L668.3,110.63 L668.5,110.69 L668.7,110.75 L668.9,110.81 L669.1,110.87 L669.3,110.92 L669.5,110.98 L669.7,111.03 L669.9,111.08 L670.1,111.13 L670.3,111.18 L670.5,111.23 L670.7,111.28 L670.9,111.33 L671.1,111.38 L671.3,111.42 L671.5,111.47 L671.7,111.51 L671.9,111.56 L672.1,111.6 L672.3,111.65 L672.5,111.69 L672.7,111.73 L672.9,111.77 L673.1,111.81 L673.3,111.85 L673.5,111.89 L673.7,111.93 L673.9,111.97 L674.1,112.01 L674.3,112.05 L674.5,112.09 L674.7,112.13 L674.9,112.17 L675.1,112.2 L675.3,112.23 L675.5,112.26 L675.7,112.28 L675.9,112.31 L676.1,112.33 L676.3,112.35 L676.5,112.38 L676.7,112.4 L676.9,112.42 L677.1,112.44 L677.3,112.47 L677.5,112.49 L677.7,112.51 L677.9,112.53 L678.1,112.55 L678.3,112.57 L678.5,112.59 L678.7,112.61 L678.9,112.64 L679.1,112.66 L679.3,112.68 L679.5,112.7 L679.7,112.72 L679.9,112.74 L680.1,112.76 L680.3,112.78 L680.5,112.8 L680.7,112.82 L680.9,112.84 L681.1,112.85 L681.3,112.87 L681.5,112.89 L681.7,112.91 L681.9,112.93 L682.1,112.95 L682.3,112.97 L682.5,112.99 L682.7,113.01 L682.9,113.02 L683.1,113.04 L683.3,113.06 L683.5,113.08 L683.7,113.1 L683.9,113.12 L684.1,113.13 L684.3,113.15 L684.5,113.17 L684.7,113.19 L684.9,113.21 L685.1,113.22 L685.3,113.24 L685.5,113.26 L685.7,113.28 L685.9,113.29 L686.1,113.31 L686.3,113.33 L686.5,113.35 L686.7,113.36 L686.9,113.38 L687.1,113.4 L687.3,113.41 L687.5,113.43 L687.7,113.45 L687.9,113.47 L688.1,113.48 L688.3,113.5 L688.5,113.52 L688.7,113.53 L688.9,113.55 L689.1,113.57 L689.3,113.58 L689.5,113.6 L689.7,113.62 L689.9,113.63 L690.1,113.64 L690.3,113.64 L690.5,113.64 L690.7,113.64 L690.9,113.64 L691.1,113.64 L691.3,113.63 L691.5,113.63 L691.7,113.63 L691.9,113.63 L692.1,113.63 L692.3,113.63 L692.5,113.63 L692.7,113.62 L692.9,113.62 L693.1,113.62 L693.3,113.62 L693.5,113.62 L693.7,113.62 L693.9,113.61 L694.1,113.61 L694.3,113.61 L694.5,113.61 L694.7,113.61 L694.9,113.61 L695.1,113.6 L695.3,113.6 L695.5,113.6 L695.7,113.6 L695.9,113.6 L696.1,113.59 L696.3,113.59 L696.5,113.59 L696.7,113.59 L696.9,113.59 L697.1,113.58 L697.3,113.58 L697.5,113.58 L697.7,113.58 L697.9,113.58 L698.1,113.57 L698.3,113.57 L698.5,113.57 L698.7,113.57 L698.9,113.57 L699.1,113.56 L699.3,113.56 L699.5,113.56 L699.7,113.56 L699.9,113.56 L700.1,113.55 L700.3,113.55 L700.5,113.55 L700.7,113.55 L700.9,113.54 L701.1,113.54 L701.3,113.54 L701.5,113.54 L701.7,113.54 L701.9,113.53 L702.1,113.53 L702.3,113.53 L702.5,113.53 L702.7,113.52 L702.9,113.52 L703.1,113.52 L703.3,113.52 L703.5,113.51 L703.7,113.51 L703.9,113.51 L704.1,113.51 L704.3,113.5 L704.5,113.5 L704.7,113.5 L704.9,113.5 L705.1,113.5 L705.3,113.49 L705.5,113.49 L705.7,113.49 L705.9,113.49 L706.1,113.48 L706.3,113.48 L706.5,113.48 L706.7,113.48 L706.9,113.47 L707.1,113.47 L707.3,113.47 L707.5,113.47 L707.7,113.46 L707.9,113.46 L708.1,113.46 L708.3,113.46 L708.5,113.45 L708.7,113.45 L708.9,113.45 L709.1,113.45 L709.3,113.44 L709.5,113.44 L709.7,113.44 L709.9,113.44 L710.1,113.43 L710.3,113.43 L710.5,113.43 L710.7,113.42 L710.9,113.42 L711.1,113.42 L711.3,113.42 L711.5,113.41 L711.7,113.41 L711.9,113.41 L712.1,113.41 L712.3,113.4 L712.5,113.4 L712.7,113.4 L712.9,113.4 L713.1,113.39 L713.3,113.39 L713.5,113.39 L713.7,113.39 L713.9,113.38 L714.1,113.38 L714.3,113.38 L714.5,113.37 L714.7,113.37 L714.9,113.37 L715.1,113.37 L715.3,113.36 L715.5,113.36 L715.7,113.36 L715.9,113.36 L716.1,113.35 L716.3,113.35 L716.5,113.35 L716.7,113.35 L716.9,113.34 L717.1,113.34 L717.3,113.34 L717.5,113.33 L717.7,113.33 L717.9,113.33 L718.1,113.33 L718.3,113.32 L718.5,113.32 L718.7,113.32 L718.9,113.31 L719.1,113.31 L719.3,113.31 L719.5,113.31 L719.7,113.3 L719.9,113.3 L720.1,113.3 L720.3,113.29 L720.5,113.29 L720.7,113.28 L720.9,113.28 L721.1,113.27 L721.3,113.27 L721.5,113.26 L721.7,113.25 L721.9,113.24 L722.1,113.23 L722.3,113.22 L722.5,113.21 L722.7,113.19 L722.9,113.17 L723.1,113.15 L723.3,113.12 L723.5,113.1 L723.7,113.06 L723.9,113.03 L724.1,112.98 L724.3,112.94 L724.5,112.89 L724.7,112.84 L724.9,112.78 L725.1,112.71 L725.3,112.64 L725.5,112.57 L725.7,112.49 L725.9,112.41 L726.1,112.33 L726.3,112.24 L726.5,112.15 L726.7,112.06 L726.9,111.97 L727.1,111.89 L727.3,111.8 L727.5,111.72 L727.7,111.64 L727.9,111.57 L728.1,111.5 L728.3,111.44 L728.5,111.39 L728.7,111.35 L728.9,111.32 L729.1,111.29 L729.3,111.28 L729.5,111.28 L729.7,111.29 L729.9,111.31 L730.1,111.34 L730.3,111.38 L730.5,111.43 L730.7,111.49 L730.9,111.55 L731.1,111.62 L731.3,111.69 L731.5,111.76 L731.7,111.84 L731.9,111.92 L732.1,112 L732.3,112.07 L732.5,112.15 L732.7,112.22 L732.9,112.29 L733.1,112.36 L733.3,112.42 L733.5,112.48 L733.7,112.53 L733.9,112.58 L734.1,112.62 L734.3,112.66 L734.5,112.69 L734.7,112.72 L734.9,112.75 L735.1,112.77 L735.3,112.79 L735.5,112.8 L735.7,112.82 L735.9,112.83 L736.1,112.83 L736.3,112.84 L736.5,112.84 L736.7,112.84 L736.9,112.84 L737.1,112.84 L737.3,112.84 L737.5,112.84 L737.7,112.84 L737.9,112.83 L738.1,112.83 L738.3,112.82 L738.5,112.82 L738.7,112.82 L738.9,112.81 L739.1,112.81 L739.3,112.8 L739.5,112.79 L739.7,112.79 L739.9,112.78 L740.1,112.78 L740.3,112.77 L740.5,112.77 L740.7,112.76 L740.9,112.76 L741.1,112.75 L741.3,112.74 L741.5,112.74 L741.7,112.73 L741.9,112.73 L742.1,112.72 L742.3,112.72 L742.5,112.71 L742.7,112.7 L742.9,112.7 L743.1,112.69 L743.3,112.69 L743.5,112.68 L743.7,112.68" fill="none" stroke="#000" stroke-width="1.05" stroke-linejoin="round"/>
<path d="M635.1,119.03 L635.3,119.01 L635.5,119 L635.7,118.99 L635.9,118.97 L636.1,118.96 L636.3,118.95 L636.5,118.93 L636.7,118.92 L636.9,118.91 L637.1,118.89 L637.3,118.88 L637.5,118.86 L637.7,118.85 L637.9,118.83 L638.1,118.82 L638.3,118.8 L638.5,118.79 L638.7,118.77 L638.9,118.76 L639.1,118.74 L639.3,118.72 L639.5,118.71 L639.7,118.69 L639.9,118.67 L640.1,118.66 L640.3,118.64 L640.5,118.62 L640.7,118.6 L640.9,118.58 L641.1,118.56 L641.3,118.55 L641.5,118.53 L641.7,118.51 L641.9,118.48 L642.1,118.46 L642.3,118.44 L642.5,118.42 L642.7,118.4 L642.9,118.37 L643.1,118.35 L643.3,118.32 L643.5,118.3 L643.7,118.27 L643.9,118.24 L644.1,118.22 L644.3,118.19 L644.5,118.16 L644.7,118.12 L644.9,118.09 L645.1,118.06 L645.3,118.02 L645.5,117.98 L645.7,117.94 L645.9,117.9 L646.1,117.86 L646.3,117.82 L646.5,117.77 L646.7,117.72 L646.9,117.67 L647.1,117.61 L647.3,117.55 L647.5,117.49 L647.7,117.42 L647.9,117.35 L648.1,117.28 L648.3,117.19 L648.5,117.11 L648.7,117.01 L648.9,116.91 L649.1,116.8 L649.3,116.68 L649.5,116.55 L649.7,116.4 L649.9,116.24 L650.1,116.07 L650.3,115.87 L650.5,115.66 L650.7,115.42 L650.9,115.15 L651.1,114.84 L651.3,114.5 L651.5,114.1 L651.7,113.65 L651.9,113.12 L652.1,112.52 L652.3,111.81 L652.5,110.97 L652.7,109.96 L652.9,108.74 L653.1,107.25 L653.3,105.41 L653.5,103.1 L653.7,100.17 L653.9,96.39 L654.1,91.47 L654.3,84.99 L654.5,76.46 L654.7,65.37 L654.9,51.66 L655.1,36.53 L655.3,23.65 L655.5,18.4 L655.7,22.25 L655.9,32.19 L656.1,44.87 L656.3,57.42 L656.5,68.4 L656.7,77.42 L656.9,84.62 L657.1,90.34 L657.3,94.9 L657.5,98.54 L657.7,101.47 L657.9,103.85 L658.1,105.82 L658.3,107.45 L658.5,108.81 L658.7,109.97 L658.9,110.96 L659.1,111.81 L659.3,112.56 L659.5,113.21 L659.7,113.78 L659.9,114.29 L660.1,114.74 L660.3,115.15 L660.5,115.52 L660.7,115.85 L660.9,116.16 L661.1,116.43 L661.3,116.66 L661.5,116.88 L661.7,117.08 L661.9,117.26 L662.1,117.43 L662.3,117.59 L662.5,117.74 L662.7,117.88 L662.9,118.01 L663.1,118.14 L663.3,118.25 L663.5,118.37 L663.7,118.47 L663.9,118.57 L664.1,118.67 L664.3,118.76 L664.5,118.85 L664.7,118.93 L664.9,119.01 L665.1,119.09 L665.3,119.17 L665.5,119.24 L665.7,119.31 L665.9,119.38 L666.1,119.44 L666.3,119.51 L666.5,119.57 L666.7,119.63 L666.9,119.69 L667.1,119.75 L667.3,119.81 L667.5,119.86 L667.7,119.92 L667.9,119.96 L668.1,119.98 L668.3,120.01 L668.5,120.04 L668.7,120.06 L668.9,120.09 L669.1,120.11 L669.3,120.13 L669.5,120.15 L669.7,120.17 L669.9,120.2 L670.1,120.22 L670.3,120.24 L670.5,120.25 L670.7,120.27 L670.9,120.29 L671.1,120.31 L671.3,120.33 L671.5,120.34 L671.7,120.36 L671.9,120.38 L672.1,120.39 L672.3,120.41 L672.5,120.42 L672.7,120.44 L672.9,120.45 L673.1,120.47 L673.3,120.48 L673.5,120.5 L673.7,120.51 L673.9,120.53 L674.1,120.54 L674.3,120.55 L674.5,120.57 L674.7,120.58 L674.9,120.59 L675.1,120.6 L675.3,120.62 L675.5,120.63 L675.7,120.64 L675.9,120.65 L676.1,120.66 L676.3,120.68 L676.5,120.69 L676.7,120.7 L676.9,120.71 L677.1,120.72 L677.3,120.73 L677.5,120.74 L677.7,120.75 L677.9,120.77 L678.1,120.78 L678.3,120.79 L678.5,120.8 L678.7,120.81 L678.9,120.82 L679.1,120.83 L679.3,120.84 L679.5,120.85 L679.7,120.86 L679.9,120.87 L680.1,120.88 L680.3,120.89 L680.5,120.9 L680.7,120.91 L680.9,120.92 L681.1,120.93 L681.3,120.94 L681.5,120.95 L681.7,120.96 L681.9,120.96 L682.1,120.97 L682.3,120.98 L682.5,120.99 L682.7,121 L682.9,121.01 L683.1,121.02 L683.3,121.03 L683.5,121.04 L683.7,121.05 L683.9,121.06 L684.1,121.07 L684.3,121.07 L684.5,121.08 L684.7,121.09 L684.9,121.1 L685.1,121.11 L685.3,121.12 L685.5,121.13 L685.7,121.14 L685.9,121.14 L686.1,121.15 L686.3,121.16 L686.5,121.17 L686.7,121.18 L686.9,121.19 L687.1,121.2 L687.3,121.2 L687.5,121.21 L687.7,121.22 L687.9,121.23 L688.1,121.24 L688.3,121.25 L688.5,121.25 L688.7,121.26 L688.9,121.27 L689.1,121.28 L689.3,121.29 L689.5,121.3 L689.7,121.3 L689.9,121.31 L690.1,121.31 L690.3,121.31 L690.5,121.31 L690.7,121.3 L690.9,121.3 L691.1,121.29 L691.3,121.29 L691.5,121.29 L691.7,121.28 L691.9,121.28 L692.1,121.27 L692.3,121.27 L692.5,121.27 L692.7,121.26 L692.9,121.26 L693.1,121.25 L693.3,121.25 L693.5,121.25 L693.7,121.24 L693.9,121.24 L694.1,121.23 L694.3,121.23 L694.5,121.23 L694.7,121.22 L694.9,121.22 L695.1,121.21 L695.3,121.21 L695.5,121.21 L695.7,121.2 L695.9,121.2 L696.1,121.19 L696.3,121.19 L696.5,121.18 L696.7,121.18 L696.9,121.18 L697.1,121.17 L697.3,121.17 L697.5,121.16 L697.7,121.16 L697.9,121.15 L698.1,121.15 L698.3,121.15 L698.5,121.14 L698.7,121.14 L698.9,121.13 L699.1,121.13 L699.3,121.12 L699.5,121.12 L699.7,121.12 L699.9,121.11 L700.1,121.11 L700.3,121.1 L700.5,121.1 L700.7,121.09 L700.9,121.09 L701.1,121.08 L701.3,121.08 L701.5,121.08 L701.7,121.07 L701.9,121.07 L702.1,121.06 L702.3,121.06 L702.5,121.05 L702.7,121.05 L702.9,121.05 L703.1,121.04 L703.3,121.04 L703.5,121.03 L703.7,121.03 L703.9,121.02 L704.1,121.02 L704.3,121.01 L704.5,121.01 L704.7,121.01 L704.9,121 L705.1,121 L705.3,120.99 L705.5,120.99 L705.7,120.98 L705.9,120.98 L706.1,120.97 L706.3,120.97 L706.5,120.96 L706.7,120.96 L706.9,120.96 L707.1,120.95 L707.3,120.95 L707.5,120.94 L707.7,120.94 L707.9,120.93 L708.1,120.93 L708.3,120.92 L708.5,120.92 L708.7,120.91 L708.9,120.91 L709.1,120.91 L709.3,120.9 L709.5,120.9 L709.7,120.89 L709.9,120.89 L710.1,120.88 L710.3,120.88 L710.5,120.87 L710.7,120.87 L710.9,120.86 L711.1,120.86 L711.3,120.86 L711.5,120.85 L711.7,120.85 L711.9,120.84 L712.1,120.84 L712.3,120.83 L712.5,120.83 L712.7,120.82 L712.9,120.82 L713.1,120.81 L713.3,120.81 L713.5,120.8 L713.7,120.8 L713.9,120.8 L714.1,120.79 L714.3,120.79 L714.5,120.78 L714.7,120.78 L714.9,120.77 L715.1,120.77 L715.3,120.76 L715.5,120.76 L715.7,120.75 L715.9,120.74 L716.1,120.74 L716.3,120.73 L716.5,120.72 L716.7,120.7 L716.9,120.69 L717.1,120.67 L717.3,120.64 L717.5,120.6 L717.7,120.56 L717.9,120.51 L718.1,120.44 L718.3,120.36 L718.5,120.26 L718.7,120.14 L718.9,120 L719.1,119.84 L719.3,119.65 L719.5,119.44 L719.7,119.21 L719.9,118.97 L720.1,118.72 L720.3,118.45 L720.5,118.19 L720.7,117.94 L720.9,117.7 L721.1,117.48 L721.3,117.3 L721.5,117.15 L721.7,117.05 L721.9,116.99 L722.1,116.99 L722.3,117.03 L722.5,117.12 L722.7,117.25 L722.9,117.43 L723.1,117.63 L723.3,117.85 L723.5,118.1 L723.7,118.35 L723.9,118.59 L724.1,118.84 L724.3,119.07 L724.5,119.28 L724.7,119.48 L724.9,119.65 L725.1,119.8 L725.3,119.93 L725.5,120.04 L725.7,120.13 L725.9,120.2 L726.1,120.26 L726.3,120.3 L726.5,120.33 L726.7,120.35 L726.9,120.37 L727.1,120.38 L727.3,120.39 L727.5,120.39 L727.7,120.39 L727.9,120.39 L728.1,120.38 L728.3,120.38 L728.5,120.37 L728.7,120.37 L728.9,120.36 L729.1,120.36 L729.3,120.35 L729.5,120.34 L729.7,120.34 L729.9,120.33 L730.1,120.32 L730.3,120.32 L730.5,120.31 L730.7,120.31 L730.9,120.3 L731.1,120.29 L731.3,120.29 L731.5,120.28 L731.7,120.27 L731.9,120.27 L732.1,120.26 L732.3,120.25 L732.5,120.25 L732.7,120.24 L732.9,120.23 L733.1,120.23 L733.3,120.22 L733.5,120.22 L733.7,120.21 L733.9,120.2 L734.1,120.2 L734.3,120.19 L734.5,120.18 L734.7,120.18 L734.9,120.17 L735.1,120.16 L735.3,120.16 L735.5,120.15 L735.7,120.14 L735.9,120.14 L736.1,120.13 L736.3,120.13 L736.5,120.12 L736.7,120.11 L736.9,120.11 L737.1,120.1 L737.3,120.09 L737.5,120.09 L737.7,120.08 L737.9,120.07 L738.1,120.07 L738.3,120.06 L738.5,120.05 L738.7,120.05 L738.9,120.04 L739.1,120.04 L739.3,120.03 L739.5,120.02 L739.7,120.02 L739.9,120.01 L740.1,120 L740.3,120 L740.5,119.99 L740.7,119.98 L740.9,119.98 L741.1,119.97 L741.3,119.96 L741.5,119.96 L741.7,119.95 L741.9,119.95 L742.1,119.94 L742.3,119.93 L742.5,119.93 L742.7,119.92 L742.9,119.91 L743.1,119.91 L743.3,119.9 L743.5,119.89 L743.7,119.89" fill="none" stroke="#000" stroke-width="1.05" stroke-linejoin="round"/>
<path d="M635.1,131.79 L635.3,131.78 L635.5,131.77 L635.7,131.76 L635.9,131.75 L636.1,131.74 L636.3,131.73 L636.5,131.73 L636.7,131.72 L636.9,131.71 L637.1,131.7 L637.3,131.69 L637.5,131.68 L637.7,131.67 L637.9,131.66 L638.1,131.65 L638.3,131.64 L638.5,131.63 L638.7,131.62 L638.9,131.61 L639.1,131.6 L639.3,131.59 L639.5,131.58 L639.7,131.57 L639.9,131.55 L640.1,131.54 L640.3,131.53 L640.5,131.52 L640.7,131.51 L640.9,131.5 L641.1,131.48 L641.3,131.47 L641.5,131.46 L641.7,131.44 L641.9,131.43 L642.1,131.42 L642.3,131.4 L642.5,131.39 L642.7,131.37 L642.9,131.36 L643.1,131.34 L643.3,131.33 L643.5,131.31 L643.7,131.29 L643.9,131.27 L644.1,131.26 L644.3,131.24 L644.5,131.22 L644.7,131.2 L644.9,131.17 L645.1,131.15 L645.3,131.13 L645.5,131.11 L645.7,131.08 L645.9,131.05 L646.1,131.03 L646.3,131 L646.5,130.97 L646.7,130.93 L646.9,130.9 L647.1,130.86 L647.3,130.83 L647.5,130.79 L647.7,130.74 L647.9,130.68 L648.1,130.62 L648.3,130.55 L648.5,130.49 L648.7,130.41 L648.9,130.34 L649.1,130.25 L649.3,130.16 L649.5,130.07 L649.7,129.96 L649.9,129.85 L650.1,129.73 L650.3,129.59 L650.5,129.44 L650.7,129.28 L650.9,129.09 L651.1,128.89 L651.3,128.66 L651.5,128.39 L651.7,128.09 L651.9,127.75 L652.1,127.35 L652.3,126.88 L652.5,126.33 L652.7,125.67 L652.9,124.87 L653.1,123.91 L653.3,122.72 L653.5,121.21 L653.7,119.27 L653.9,116.71 L654.1,113.29 L654.3,108.6 L654.5,102.01 L654.7,92.61 L654.9,79.14 L655.1,60.64 L655.3,38.67 L655.5,21.59 L655.7,20.72 L655.9,32.81 L656.1,50.46 L656.3,67.57 L656.5,81.57 L656.7,92.25 L656.9,100.24 L657.1,106.2 L657.3,110.69 L657.5,114.13 L657.7,116.81 L657.9,118.91 L658.1,120.62 L658.3,122.04 L658.5,123.21 L658.7,124.19 L658.9,125.02 L659.1,125.73 L659.3,126.34 L659.5,126.87 L659.7,127.34 L659.9,127.75 L660.1,128.12 L660.3,128.45 L660.5,128.75 L660.7,129.02 L660.9,129.27 L661.1,129.49 L661.3,129.7 L661.5,129.9 L661.7,130.08 L661.9,130.25 L662.1,130.4 L662.3,130.55 L662.5,130.69 L662.7,130.83 L662.9,130.96 L663.1,131.08 L663.3,131.19 L663.5,131.31 L663.7,131.41 L663.9,131.52 L664.1,131.62 L664.3,131.67 L664.5,131.72 L664.7,131.77 L664.9,131.82 L665.1,131.86 L665.3,131.9 L665.5,131.94 L665.7,131.98 L665.9,132.02 L666.1,132.05 L666.3,132.09 L666.5,132.12 L666.7,132.15 L666.9,132.18 L667.1,132.21 L667.3,132.24 L667.5,132.27 L667.7,132.29 L667.9,132.32 L668.1,132.34 L668.3,132.37 L668.5,132.39 L668.7,132.42 L668.9,132.44 L669.1,132.46 L669.3,132.48 L669.5,132.5 L669.7,132.52 L669.9,132.54 L670.1,132.56 L670.3,132.58 L670.5,132.6 L670.7,132.62 L670.9,132.64 L671.1,132.66 L671.3,132.67 L671.5,132.69 L671.7,132.71 L671.9,132.72 L672.1,132.74 L672.3,132.76 L672.5,132.77 L672.7,132.79 L672.9,132.8 L673.1,132.82 L673.3,132.84 L673.5,132.85 L673.7,132.87 L673.9,132.88 L674.1,132.9 L674.3,132.91 L674.5,132.92 L674.7,132.94 L674.9,132.95 L675.1,132.97 L675.3,132.98 L675.5,132.99 L675.7,133.01 L675.9,133.02 L676.1,133.03 L676.3,133.04 L676.5,133.04 L676.7,133.05 L676.9,133.06 L677.1,133.06 L677.3,133.07 L677.5,133.07 L677.7,133.08 L677.9,133.08 L678.1,133.09 L678.3,133.09 L678.5,133.1 L678.7,133.1 L678.9,133.11 L679.1,133.11 L679.3,133.12 L679.5,133.12 L679.7,133.13 L679.9,133.13 L680.1,133.14 L680.3,133.14 L680.5,133.15 L680.7,133.15 L680.9,133.16 L681.1,133.16 L681.3,133.17 L681.5,133.17 L681.7,133.18 L681.9,133.18 L682.1,133.19 L682.3,133.19 L682.5,133.19 L682.7,133.2 L682.9,133.2 L683.1,133.21 L683.3,133.21 L683.5,133.22 L683.7,133.22 L683.9,133.22 L684.1,133.23 L684.3,133.23 L684.5,133.24 L684.7,133.24 L684.9,133.24 L685.1,133.25 L685.3,133.25 L685.5,133.26 L685.7,133.26 L685.9,133.26 L686.1,133.27 L686.3,133.27 L686.5,133.27 L686.7,133.28 L686.9,133.28 L687.1,133.29 L687.3,133.29 L687.5,133.29 L687.7,133.3 L687.9,133.3 L688.1,133.31 L688.3,133.31 L688.5,133.31 L688.7,133.32 L688.9,133.32 L689.1,133.32 L689.3,133.33 L689.5,133.33 L689.7,133.33 L689.9,133.34 L690.1,133.34 L690.3,133.34 L690.5,133.34 L690.7,133.34 L690.9,133.34 L691.1,133.34 L691.3,133.34 L691.5,133.34 L691.7,133.34 L691.9,133.34 L692.1,133.34 L692.3,133.34 L692.5,133.34 L692.7,133.34 L692.9,133.34 L693.1,133.33 L693.3,133.33 L693.5,133.33 L693.7,133.33 L693.9,133.33 L694.1,133.33 L694.3,133.33 L694.5,133.33 L694.7,133.33 L694.9,133.33 L695.1,133.33 L695.3,133.33 L695.5,133.33 L695.7,133.33 L695.9,133.33 L696.1,133.33 L696.3,133.33 L696.5,133.33 L696.7,133.33 L696.9,133.33 L697.1,133.33 L697.3,133.32 L697.5,133.32 L697.7,133.32 L697.9,133.32 L698.1,133.32 L698.3,133.32 L698.5,133.32 L698.7,133.32 L698.9,133.32 L699.1,133.32 L699.3,133.32 L699.5,133.32 L699.7,133.32 L699.9,133.32 L700.1,133.32 L700.3,133.32 L700.5,133.32 L700.7,133.32 L700.9,133.31 L701.1,133.31 L701.3,133.31 L701.5,133.31 L701.7,133.31 L701.9,133.31 L702.1,133.31 L702.3,133.31 L702.5,133.31 L702.7,133.31 L702.9,133.31 L703.1,133.31 L703.3,133.31 L703.5,133.31 L703.7,133.31 L703.9,133.3 L704.1,133.3 L704.3,133.3 L704.5,133.3 L704.7,133.3 L704.9,133.3 L705.1,133.3 L705.3,133.3 L705.5,133.3 L705.7,133.3 L705.9,133.3 L706.1,133.3 L706.3,133.3 L706.5,133.3 L706.7,133.29 L706.9,133.29 L707.1,133.29 L707.3,133.29 L707.5,133.29 L707.7,133.29 L707.9,133.29 L708.1,133.29 L708.3,133.29 L708.5,133.29 L708.7,133.29 L708.9,133.29 L709.1,133.28 L709.3,133.28 L709.5,133.28 L709.7,133.28 L709.9,133.27 L710.1,133.27 L710.3,133.26 L710.5,133.25 L710.7,133.24 L710.9,133.22 L711.1,133.19 L711.3,133.16 L711.5,133.11 L711.7,133.05 L711.9,132.97 L712.1,132.87 L712.3,132.75 L712.5,132.61 L712.7,132.45 L712.9,132.26 L713.1,132.05 L713.3,131.82 L713.5,131.56 L713.7,131.28 L713.9,131 L714.1,130.7 L714.3,130.4 L714.5,130.12 L714.7,129.85 L714.9,129.6 L715.1,129.39 L715.3,129.22 L715.5,129.11 L715.7,129.04 L715.9,129.03 L716.1,129.07 L716.3,129.17 L716.5,129.31 L716.7,129.5 L716.9,129.72 L717.1,129.96 L717.3,130.23 L717.5,130.5 L717.7,130.77 L717.9,131.04 L718.1,131.29 L718.3,131.52 L718.5,131.74 L718.7,131.92 L718.9,132.09 L719.1,132.23 L719.3,132.34 L719.5,132.44 L719.7,132.51 L719.9,132.57 L720.1,132.61 L720.3,132.64 L720.5,132.66 L720.7,132.68 L720.9,132.68 L721.1,132.69 L721.3,132.68 L721.5,132.68 L721.7,132.67 L721.9,132.66 L722.1,132.65 L722.3,132.64 L722.5,132.63 L722.7,132.62 L722.9,132.61 L723.1,132.6 L723.3,132.59 L723.5,132.58 L723.7,132.56 L723.9,132.55 L724.1,132.54 L724.3,132.53 L724.5,132.52 L724.7,132.51 L724.9,132.49 L725.1,132.48 L725.3,132.47 L725.5,132.46 L725.7,132.45 L725.9,132.44 L726.1,132.42 L726.3,132.41 L726.5,132.4 L726.7,132.39 L726.9,132.38 L727.1,132.37 L727.3,132.35 L727.5,132.34 L727.7,132.33 L727.9,132.32 L728.1,132.31 L728.3,132.3 L728.5,132.28 L728.7,132.27 L728.9,132.26 L729.1,132.25 L729.3,132.24 L729.5,132.22 L729.7,132.21 L729.9,132.2 L730.1,132.19 L730.3,132.18 L730.5,132.17 L730.7,132.15 L730.9,132.14 L731.1,132.13 L731.3,132.12 L731.5,132.11 L731.7,132.1 L731.9,132.08 L732.1,132.07 L732.3,132.06 L732.5,132.05 L732.7,132.04 L732.9,132.03 L733.1,132.01 L733.3,132 L733.5,131.99 L733.7,131.98 L733.9,131.97 L734.1,131.95 L734.3,131.94 L734.5,131.93 L734.7,131.92 L734.9,131.91 L735.1,131.9 L735.3,131.88 L735.5,131.87 L735.7,131.86 L735.9,131.85 L736.1,131.84 L736.3,131.83 L736.5,131.81 L736.7,131.8 L736.9,131.79 L737.1,131.78 L737.3,131.77 L737.5,131.76 L737.7,131.74 L737.9,131.73 L738.1,131.72 L738.3,131.71 L738.5,131.7 L738.7,131.68 L738.9,131.67 L739.1,131.66 L739.3,131.65 L739.5,131.64 L739.7,131.63 L739.9,131.61 L740.1,131.6 L740.3,131.59 L740.5,131.58 L740.7,131.57 L740.9,131.56 L741.1,131.54 L741.3,131.53 L741.5,131.52 L741.7,131.51 L741.9,131.5 L742.1,131.48 L742.3,131.47 L742.5,131.46 L742.7,131.45 L742.9,131.44 L743.1,131.43 L743.3,131.41 L743.5,131.4 L743.7,131.39" fill="none" stroke="#000" stroke-width="1.05" stroke-linejoin="round"/>
<text x="746.3" y="33.2" font-size="12.9" text-anchor="end" font-weight="normal" >DEPE/&#945;C</text>
<text id="t6" x="753.4" y="109.2" font-size="12.4" text-anchor="start" font-weight="normal" >55:1</text>
<rect x="770.56" y="107.57" width="3.15" height="2.53" fill="#fff"/><rect x="774.85" y="107.57" width="3.18" height="2.53" fill="#fff"/>
<text id="t7" x="753.4" y="121.5" font-size="12.4" text-anchor="start" font-weight="normal" >110:1</text>
<rect x="753.34" y="119.87" width="3.15" height="2.53" fill="#fff"/><rect x="757.63" y="119.87" width="3.18" height="2.53" fill="#fff"/><rect x="759.31" y="119.87" width="3.15" height="2.53" fill="#fff"/><rect x="763.6" y="119.87" width="3.18" height="2.53" fill="#fff"/><rect x="776.53" y="119.87" width="3.15" height="2.53" fill="#fff"/><rect x="780.82" y="119.87" width="3.18" height="2.53" fill="#fff"/>
<text x="753.4" y="134.2" font-size="12.4" text-anchor="start" font-weight="normal" >DEPE</text>
<text transform="translate(616.6,96.4) rotate(-90)" x="0" y="0" font-size="11">Endo</text>
<line x1="612.3" y1="44.3" x2="612.3" y2="67.6" stroke="#000" stroke-width="1"/>
<path d="M612.3,40.3 L610.4,47.3 L614.2,47.3 Z" fill="#000"/>
<text x="679.1" y="181.5" font-size="12.6" text-anchor="start" font-weight="normal" >T (</text>
<text x="695" y="170.9" font-size="9.6" text-anchor="start" font-weight="normal" >o</text>
<text x="700.2" y="181.6" font-size="13.5" text-anchor="start" font-weight="normal" >C)</text>
<line x1="439.7" y1="262.1" x2="546.7" y2="262.1" stroke="#111" stroke-width="1.2"/>
<line x1="466.7" y1="262.1" x2="466.7" y2="274.5" stroke="#111" stroke-width="1.2"/>
<text id="t8" x="466.7" y="293.2" font-size="13.2" text-anchor="middle" font-weight="normal" >1240</text>
<rect x="452.03" y="291.51" width="3.29" height="2.59" fill="#fff"/><rect x="456.53" y="291.51" width="3.31" height="2.59" fill="#fff"/>
<line x1="502.6" y1="262.1" x2="502.6" y2="274.5" stroke="#111" stroke-width="1.2"/>
<text id="t9" x="502.6" y="293.2" font-size="13.2" text-anchor="middle" font-weight="normal" >1200</text>
<rect x="487.93" y="291.51" width="3.29" height="2.59" fill="#fff"/><rect x="492.43" y="291.51" width="3.31" height="2.59" fill="#fff"/>
<line x1="537.7" y1="262.1" x2="537.7" y2="274.5" stroke="#111" stroke-width="1.2"/>
<text id="t10" x="537.7" y="293.2" font-size="13.2" text-anchor="middle" font-weight="normal" >1160</text>
<rect x="523.53" y="291.51" width="3.29" height="2.59" fill="#fff"/><rect x="528.03" y="291.51" width="3.31" height="2.59" fill="#fff"/><rect x="529.87" y="291.51" width="3.29" height="2.59" fill="#fff"/><rect x="534.37" y="291.51" width="3.31" height="2.59" fill="#fff"/>
<path d="M440,226.6 C441.13,225.93 444.32,224.17 446.8,222.6 C449.28,221.03 452.2,219.45 454.9,217.2 C457.6,214.95 460.3,212.03 463,209.1 C465.7,206.17 468.4,202.67 471.1,199.6 C473.8,196.53 476.72,192.95 479.2,190.7 C481.68,188.45 484.03,186.95 486,186.1 C487.97,185.25 489.43,185.23 491,185.6 C492.57,185.97 493.53,186.63 495.4,188.3 C497.27,189.97 499.95,193.62 502.2,195.6 C504.45,197.58 506.43,199.08 508.9,200.2 C511.37,201.32 514.52,201.58 517,202.3 C519.48,203.02 521.55,203.15 523.8,204.5 C526.05,205.85 528.03,207.83 530.5,210.4 C532.97,212.97 535.92,216.97 538.6,219.9 C541.28,222.83 545.27,226.65 546.6,228" fill="none" stroke="#000" stroke-width="1.15"/>
<path d="M440,240.2 C441.37,239.3 445.48,237.07 448.2,234.8 C450.92,232.53 453.6,229.77 456.3,226.6 C459,223.43 461.7,219.17 464.4,215.8 C467.1,212.43 470.03,209 472.5,206.4 C474.97,203.8 476.95,201.78 479.2,200.2 C481.45,198.62 484.03,197.38 486,196.9 C487.97,196.42 489.2,196.43 491,197.3 C492.8,198.17 494.72,199.95 496.8,202.1 C498.88,204.25 501.25,207.92 503.5,210.2 C505.75,212.48 508.05,214.42 510.3,215.8 C512.55,217.18 514.75,217.68 517,218.5 C519.25,219.32 521.55,219.35 523.8,220.7 C526.05,222.05 528.03,224.03 530.5,226.6 C532.97,229.17 535.92,232.93 538.6,236.1 C541.28,239.27 545.27,244.02 546.6,245.6" fill="none" stroke="#000" stroke-width="1.15"/>
<path d="M440,261.4 C441.37,260.78 445.48,259.43 448.2,257.7 C450.92,255.97 453.6,253.92 456.3,251 C459,248.08 461.7,243.8 464.4,240.2 C467.1,236.6 469.8,232.65 472.5,229.4 C475.2,226.15 478.12,222.83 480.6,220.7 C483.08,218.57 485.37,217.28 487.4,216.6 C489.43,215.92 491.37,216.28 492.8,216.6 C494.23,216.92 494.43,216.83 496,218.5 C497.57,220.17 500.05,224.33 502.2,226.6 C504.35,228.87 506.65,230.88 508.9,232.1 C511.15,233.32 513.45,233.23 515.7,233.9 C517.95,234.57 520.15,234.6 522.4,236.1 C524.65,237.6 526.95,240.42 529.2,242.9 C531.45,245.38 533.65,248.3 535.9,251 C538.15,253.7 541.05,257.27 542.7,259.1 C544.35,260.93 545.28,261.52 545.8,262" fill="none" stroke="#000" stroke-width="1.15"/>
<line x1="623.9" y1="266.3" x2="730.4" y2="266.3" stroke="#111" stroke-width="1.2"/>
<line x1="650.4" y1="266.3" x2="650.4" y2="279.2" stroke="#111" stroke-width="1.2"/>
<text id="t11" x="650.4" y="297.8" font-size="13.2" text-anchor="middle" font-weight="normal" >1240</text>
<rect x="635.73" y="296.11" width="3.29" height="2.59" fill="#fff"/><rect x="640.23" y="296.11" width="3.31" height="2.59" fill="#fff"/>
<line x1="685.8" y1="266.3" x2="685.8" y2="279.2" stroke="#111" stroke-width="1.2"/>
<text id="t12" x="685.8" y="297.8" font-size="13.2" text-anchor="middle" font-weight="normal" >1200</text>
<rect x="671.13" y="296.11" width="3.29" height="2.59" fill="#fff"/><rect x="675.63" y="296.11" width="3.31" height="2.59" fill="#fff"/>
<line x1="721" y1="266.3" x2="721" y2="279.2" stroke="#111" stroke-width="1.2"/>
<text id="t13" x="721" y="297.8" font-size="13.2" text-anchor="middle" font-weight="normal" >1160</text>
<rect x="706.83" y="296.11" width="3.29" height="2.59" fill="#fff"/><rect x="711.33" y="296.11" width="3.31" height="2.59" fill="#fff"/><rect x="713.17" y="296.11" width="3.29" height="2.59" fill="#fff"/><rect x="717.67" y="296.11" width="3.31" height="2.59" fill="#fff"/>
<path d="M623.9,237.9 C625.42,237.33 630.17,236.37 633,234.5 C635.83,232.63 638.28,229.95 640.9,226.7 C643.52,223.45 646.1,218.68 648.7,215 C651.3,211.32 654.12,207.65 656.5,204.6 C658.88,201.55 660.83,198.4 663,196.7 C665.17,195 667.32,194.4 669.5,194.4 C671.68,194.4 673.7,195.43 676.1,196.7 C678.5,197.97 681.65,200.25 683.9,202 C686.15,203.75 687.02,205.32 689.6,207.2 C692.18,209.08 696.13,211.47 699.4,213.3 C702.67,215.13 706.53,216.57 709.2,218.2 C711.87,219.83 713.35,221.27 715.4,223.1 C717.45,224.93 719.15,226.62 721.5,229.2 C723.85,231.78 728.17,237.03 729.5,238.6" fill="none" stroke="#000" stroke-width="1.15"/>
<path d="M623.9,247.6 C625.42,246.95 630.17,245.67 633,243.7 C635.83,241.73 638.28,239.07 640.9,235.8 C643.52,232.53 646.1,228 648.7,224.1 C651.3,220.2 654.12,215.43 656.5,212.4 C658.88,209.37 661.05,207.2 663,205.9 C664.95,204.6 666.02,204.17 668.2,204.6 C670.38,205.03 673.48,206.77 676.1,208.5 C678.72,210.23 681.65,213.18 683.9,215 C686.15,216.82 687.02,217.43 689.6,219.4 C692.18,221.37 696.13,224.95 699.4,226.8 C702.67,228.65 706.33,229.07 709.2,230.5 C712.07,231.93 714.35,233.37 716.6,235.4 C718.85,237.43 720.55,239.9 722.7,242.7 C724.85,245.5 728.37,250.62 729.5,252.2" fill="none" stroke="#000" stroke-width="1.15"/>
<path d="M623.9,265 C625.42,264.7 630.17,265.23 633,263.2 C635.83,261.17 638.28,256.7 640.9,252.8 C643.52,248.9 646.1,243.72 648.7,239.8 C651.3,235.88 653.9,232.35 656.5,229.3 C659.1,226.25 661.92,223.23 664.3,221.5 C666.68,219.77 668.62,218.9 670.8,218.9 C672.98,218.9 675.08,220.18 677.4,221.5 C679.72,222.82 681.85,224.48 684.7,226.8 C687.55,229.12 691.23,233.03 694.5,235.4 C697.77,237.77 701.43,239.37 704.3,241 C707.17,242.63 709.45,243.68 711.7,245.2 C713.95,246.72 715.75,247.85 717.8,250.1 C719.85,252.35 722,256.08 724,258.7 C726,261.32 728.83,264.62 729.8,265.8" fill="none" stroke="#000" stroke-width="1.15"/>
<text x="455.4" y="313.5" font-size="10.8" text-anchor="start" font-weight="normal" >&#957;</text>
<text x="465.1" y="314.6" font-size="12.9" text-anchor="start" font-weight="normal" >PO</text>
<text x="484.3" y="321.1" font-size="12.9" text-anchor="start" font-weight="normal" >2</text>
<text x="495.4" y="314.6" font-size="12.9" text-anchor="start" font-weight="normal" >(cm</text>
<text id="t14" x="517.6" y="303.2" font-size="12.2" text-anchor="start" font-weight="normal" >-1</text>
<rect x="521.58" y="301.59" width="3.12" height="2.51" fill="#fff"/><rect x="525.81" y="301.59" width="3.14" height="2.51" fill="#fff"/>
<text x="528.7" y="314.6" font-size="12.9" text-anchor="start" font-weight="normal" >)</text>
<text x="639.8" y="316.4" font-size="10.8" text-anchor="start" font-weight="normal" >&#957;</text>
<text x="650" y="316.7" font-size="12.9" text-anchor="start" font-weight="normal" >PO</text>
<text x="668.8" y="323.6" font-size="12.9" text-anchor="start" font-weight="normal" >2</text>
<text x="679.8" y="316.7" font-size="12.9" text-anchor="start" font-weight="normal" >(cm</text>
<text id="t15" x="701.7" y="305.4" font-size="12.2" text-anchor="start" font-weight="normal" >-1</text>
<rect x="705.68" y="303.79" width="3.12" height="2.51" fill="#fff"/><rect x="709.91" y="303.79" width="3.14" height="2.51" fill="#fff"/>
<text x="713.6" y="316.7" font-size="12.9" text-anchor="start" font-weight="normal" >)</text>
<text id="t16" x="589" y="233" font-size="12.6" text-anchor="middle" font-weight="normal" >+HSP17</text>
<rect x="598.56" y="231.36" width="3.19" height="2.54" fill="#fff"/><rect x="602.9" y="231.36" width="3.21" height="2.54" fill="#fff"/>
<text x="585" y="252.2" font-size="12.6" text-anchor="middle" font-weight="normal" >+&#945;C</text>
<text x="586.8" y="265.7" font-size="12.6" text-anchor="middle" font-weight="normal" >DEPE</text>
<rect x="788.4" y="0" width="1.6" height="326" fill="#000"/>
</svg>
</body></html>
